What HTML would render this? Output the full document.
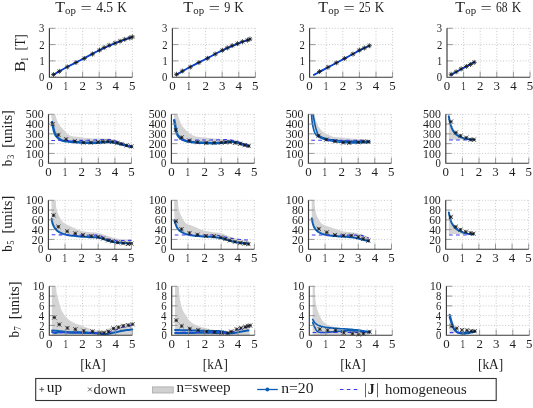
<!DOCTYPE html><html><head><meta charset="utf-8"><style>html,body{margin:0;padding:0;background:#fff;overflow:hidden}svg{display:block;will-change:transform}</style></head><body>
<svg width="533" height="408" viewBox="0 0 533 408" style="font-family:'Liberation Serif',serif">
<rect x="0" y="0" width="533" height="408" fill="#fff"/>
<clipPath id="cl00"><rect x="49.40" y="28.30" width="85.00" height="48.90"/></clipPath>
<path d="M66.00 28.30V77.20 M82.60 28.30V77.20 M99.20 28.30V77.20 M115.80 28.30V77.20 M132.40 28.30V77.20 M49.40 60.90H132.40 M49.40 44.60H132.40 M49.40 28.30H132.40" stroke="#bdbdbd" stroke-width="0.9" stroke-dasharray="0.9 1.9" fill="none"/>
<g clip-path="url(#cl00)">
<path d="M52.72 75.08 L54.13 74.28 L56.04 73.17 L58.32 71.86 L60.84 70.43 L63.44 68.98 L66.00 67.58 L68.57 66.23 L71.29 64.84 L74.09 63.43 L76.94 61.99 L79.79 60.55 L82.60 59.11 L85.37 57.64 L88.13 56.14 L90.90 54.63 L93.67 53.14 L96.43 51.69 L99.20 50.31 L101.97 48.98 L104.73 47.70 L107.50 46.46 L110.27 45.26 L113.03 44.10 L115.80 42.97 L118.76 41.82 L121.95 40.64 L125.14 39.50 L128.10 38.45 L130.59 37.58 L132.40 36.94" stroke="#0a4fb0" stroke-width="1.8" fill="none" stroke-linejoin="round"/>
<path d="M52.72 75.08 L54.13 74.28 L56.04 73.17 L58.32 71.86 L60.84 70.43 L63.44 68.98 L66.00 67.58 L68.57 66.23 L71.29 64.84 L74.09 63.43 L76.94 61.99 L79.79 60.55 L82.60 59.11 L85.37 57.64 L88.13 56.14 L90.90 54.63 L93.67 53.14 L96.43 51.69 L99.20 50.31 L101.97 48.98 L104.73 47.70 L107.50 46.46 L110.27 45.26 L113.03 44.10 L115.80 42.97 L118.76 41.82 L121.95 40.64 L125.14 39.50 L128.10 38.45 L130.59 37.58 L132.40 36.94" stroke="#0a36f0" stroke-width="0.9" fill="none" stroke-linejoin="round"/>
</g>
<path d="M51.75 72.79L55.35 76.39M51.75 76.39L55.35 72.79 M51.05 74.59H56.05M53.55 72.09V77.09 M57.56 69.53L61.16 73.13M57.56 73.13L61.16 69.53 M56.86 71.33H61.86M59.36 68.83V73.83 M65.53 65.13L69.13 68.73M65.53 68.73L69.13 65.13 M64.83 66.93H69.83M67.33 64.43V69.43 M74.16 60.73L77.76 64.33M74.16 64.33L77.76 60.73 M73.46 62.53H78.46M75.96 60.03V65.03 M82.46 56.66L86.06 60.26M82.46 60.26L86.06 56.66 M81.76 58.46H86.76M84.26 55.96V60.96 M90.76 52.25L94.36 55.85M90.76 55.85L94.36 52.25 M90.06 54.05H95.06M92.56 51.55V56.55 M97.73 48.34L101.33 51.94M97.73 51.94L101.33 48.34 M97.03 50.14H102.03M99.53 47.64V52.64 M102.38 45.73L105.98 49.33M102.38 49.33L105.98 45.73 M101.68 47.53H106.68M104.18 45.03V50.03 M107.36 43.45L110.96 47.05M107.36 47.05L110.96 43.45 M106.66 45.25H111.66M109.16 42.75V47.75 M113.17 41.33L116.77 44.93M113.17 44.93L116.77 41.33 M112.47 43.13H117.47M114.97 40.63V45.63 M118.32 39.38L121.92 42.98M118.32 42.98L121.92 39.38 M117.62 41.18H122.62M120.12 38.68V43.68 M122.96 37.58L126.56 41.18M122.96 41.18L126.56 37.58 M122.26 39.38H127.26M124.76 36.88V41.88 M127.94 36.12L131.54 39.72M127.94 39.72L131.54 36.12 M127.24 37.92H132.24M129.74 35.42V40.42 M130.60 35.14L134.20 38.74M130.60 38.74L134.20 35.14 M129.90 36.94H134.90M132.40 34.44V39.44" stroke="#151515" stroke-width="0.75" fill="none"/>
<path d="M66.00 77.20V71.70 M82.60 77.20V71.70 M99.20 77.20V71.70 M115.80 77.20V71.70 M132.40 77.20V71.70 M49.40 60.90H55.20 M49.40 44.60H55.20 M49.40 28.30H55.20" stroke="#909090" stroke-width="0.9" fill="none"/>
<path d="M49.40 28.30V77.20H132.40" stroke="#3a3a3a" stroke-width="1.15" fill="none"/>
<text x="46.18" y="89.80" font-size="11.50" textLength="6.44" lengthAdjust="spacingAndGlyphs" fill="#1e1e1e">0</text>
<text x="63.60" y="89.80" font-size="11.50" textLength="4.54" lengthAdjust="spacingAndGlyphs" fill="#1e1e1e">1</text>
<text x="79.45" y="89.80" font-size="11.50" textLength="6.44" lengthAdjust="spacingAndGlyphs" fill="#1e1e1e">2</text>
<text x="95.92" y="89.80" font-size="11.50" textLength="6.44" lengthAdjust="spacingAndGlyphs" fill="#1e1e1e">3</text>
<text x="112.55" y="89.80" font-size="11.50" textLength="6.44" lengthAdjust="spacingAndGlyphs" fill="#1e1e1e">4</text>
<text x="129.06" y="89.80" font-size="11.50" textLength="6.44" lengthAdjust="spacingAndGlyphs" fill="#1e1e1e">5</text>
<text x="39.09" y="81.30" font-size="12.40" textLength="5.37" lengthAdjust="spacingAndGlyphs" fill="#1e1e1e">0</text>
<text x="39.47" y="65.00" font-size="12.40" textLength="5.20" lengthAdjust="spacingAndGlyphs" fill="#1e1e1e">1</text>
<text x="39.32" y="48.70" font-size="12.40" textLength="5.32" lengthAdjust="spacingAndGlyphs" fill="#1e1e1e">2</text>
<text x="39.12" y="32.40" font-size="12.40" textLength="5.35" lengthAdjust="spacingAndGlyphs" fill="#1e1e1e">3</text>
<clipPath id="cl01"><rect x="48.50" y="114.30" width="85.00" height="48.90"/></clipPath>
<path d="M65.10 114.30V163.20 M81.70 114.30V163.20 M98.30 114.30V163.20 M114.90 114.30V163.20 M131.50 114.30V163.20 M48.50 153.42H131.50 M48.50 143.64H131.50 M48.50 133.86H131.50 M48.50 124.08H131.50 M48.50 114.30H131.50" stroke="#bdbdbd" stroke-width="0.9" stroke-dasharray="0.9 1.9" fill="none"/>
<g clip-path="url(#cl01)">
<path d="M50.82 112.34 L51.47 112.28 L52.42 112.17 L53.48 112.08 L54.45 112.11 L55.14 112.34 L55.44 112.78 L55.48 113.35 L55.42 114.07 L55.42 114.97 L55.64 116.06 L56.08 117.44 L56.64 119.10 L57.32 120.89 L58.09 122.67 L58.96 124.28 L59.97 125.72 L61.13 127.10 L62.36 128.41 L63.60 129.66 L64.77 130.83 L65.76 131.95 L66.63 133.02 L67.52 134.01 L68.62 134.88 L70.08 135.62 L71.99 136.18 L74.23 136.57 L76.69 136.86 L79.22 137.11 L81.70 137.38 L84.14 137.67 L86.62 137.95 L89.13 138.20 L91.65 138.41 L94.15 138.55 L96.71 138.59 L99.33 138.54 L101.92 138.46 L104.38 138.41 L106.60 138.46 L108.53 138.59 L110.22 138.76 L111.78 139.00 L113.31 139.31 L114.90 139.73 L116.56 140.28 L118.22 140.97 L119.88 141.71 L121.54 142.46 L123.20 143.15 L124.99 143.82 L126.92 144.50 L128.78 145.15 L130.37 145.69 L131.50 146.08 L131.50 146.97 L123.20 144.72 L115.73 142.86 L109.09 141.88 L98.30 142.56 L91.66 142.86 L80.04 142.47 L70.08 141.68 L62.28 140.51 L57.80 137.67 L54.97 133.86 L53.48 128.68 L52.32 122.91 L50.82 112.34 Z" fill="#d4d4d4" stroke="none"/>
<path d="M51.99 122.12 L52.15 122.85 L52.37 123.87 L52.64 125.08 L52.93 126.35 L53.21 127.59 L53.48 128.68 L53.71 129.64 L53.93 130.56 L54.14 131.44 L54.38 132.28 L54.65 133.09 L54.97 133.86 L55.35 134.59 L55.75 135.27 L56.20 135.91 L56.68 136.53 L57.21 137.11 L57.80 137.67 L58.41 138.22 L59.04 138.75 L59.73 139.26 L60.48 139.72 L61.32 140.15 L62.28 140.51 L63.36 140.81 L64.55 141.04 L65.84 141.23 L67.20 141.38 L68.62 141.53 L70.08 141.68 L71.60 141.84 L73.18 141.99 L74.82 142.12 L76.52 142.25 L78.26 142.36 L80.04 142.47 L81.94 142.56 L83.97 142.65 L86.06 142.73 L88.09 142.79 L89.99 142.84 L91.66 142.86 L93.01 142.85 L94.09 142.82 L95.03 142.78 L95.96 142.72 L97.01 142.64 L98.30 142.56 L99.91 142.45 L101.74 142.30 L103.70 142.14 L105.65 142.00 L107.48 141.90 L109.09 141.88 L110.43 141.94 L111.58 142.05 L112.62 142.21 L113.61 142.40 L114.62 142.62 L115.73 142.86 L116.92 143.11 L118.13 143.40 L119.36 143.71 L120.62 144.03 L121.90 144.37 L123.20 144.72 L124.63 145.09 L126.21 145.52 L127.82 145.96 L129.32 146.37 L130.59 146.72 L131.50 146.97" stroke="#0a5cb4" stroke-width="2.50" fill="none" stroke-linejoin="round" stroke-linecap="round"/>
<path d="M51.32 140.51 L53.79 140.51 L57.25 140.52 L61.32 140.53 L65.63 140.54 L69.78 140.53 L73.40 140.51 L76.45 140.47 L79.25 140.41 L81.89 140.35 L84.49 140.27 L87.15 140.19 L90.00 140.12 L93.18 140.02 L96.64 139.90 L100.17 139.77 L103.56 139.67 L106.60 139.61 L109.09 139.63 L110.91 139.72 L112.19 139.85 L113.14 140.03 L113.92 140.27 L114.72 140.56 L115.73 140.90 L116.92 141.34 L118.13 141.87 L119.36 142.45 L120.62 143.05 L121.90 143.62 L123.20 144.13 L124.63 144.60 L126.21 145.06 L127.82 145.50 L129.32 145.90 L130.59 146.23 L131.50 146.48" stroke="#3a3af2" stroke-width="1.1" stroke-dasharray="3.7 3.3" fill="none"/>
</g>
<path d="M50.55 121.98L54.75 126.18M50.55 126.18L54.75 121.98 M50.95 124.08H54.35M52.65 122.38V125.78 M56.36 132.74L60.56 136.94M56.36 136.94L60.56 132.74 M56.76 134.84H60.16M58.46 133.14V136.54 M64.00 137.14L68.20 141.34M64.00 141.34L68.20 137.14 M64.40 139.24H67.80M66.10 137.54V140.94 M72.79 139.19L76.99 143.39M72.79 143.39L76.99 139.19 M73.19 141.29H76.59M74.89 139.59V142.99 M81.26 140.46L85.46 144.66M81.26 144.66L85.46 140.46 M81.66 142.56H85.06M83.36 140.86V144.26 M88.73 140.56L92.93 144.76M88.73 144.76L92.93 140.56 M89.13 142.66H92.53M90.83 140.96V144.36 M95.87 139.98L100.07 144.18M95.87 144.18L100.07 139.98 M96.27 142.08H99.67M97.97 140.38V143.78 M100.85 139.58L105.05 143.78M100.85 143.78L105.05 139.58 M101.25 141.68H104.65M102.95 139.98V143.38 M105.83 139.29L110.03 143.49M105.83 143.49L110.03 139.29 M106.23 141.39H109.63M107.93 139.69V143.09 M110.31 139.78L114.51 143.98M110.31 143.98L114.51 139.78 M110.71 141.88H114.11M112.41 140.18V143.58 M115.29 140.76L119.49 144.96M115.29 144.96L119.49 140.76 M115.69 142.86H119.09M117.39 141.16V144.56 M119.44 141.83L123.64 146.03M119.44 146.03L123.64 141.83 M119.84 143.93H123.24M121.54 142.23V145.63 M124.42 143.30L128.62 147.50M124.42 147.50L128.62 143.30 M124.82 145.40H128.22M126.52 143.70V147.10 M129.40 144.28L133.60 148.48M129.40 148.48L133.60 144.28 M129.80 146.38H133.20M131.50 144.68V148.08" stroke="#151515" stroke-width="0.75" fill="none"/>
<path d="M65.10 163.20V157.70 M81.70 163.20V157.70 M98.30 163.20V157.70 M114.90 163.20V157.70 M131.50 163.20V157.70 M48.50 153.42H54.30 M48.50 143.64H54.30 M48.50 133.86H54.30 M48.50 124.08H54.30 M48.50 114.30H54.30" stroke="#909090" stroke-width="0.9" fill="none"/>
<path d="M48.50 114.30V163.20H131.50" stroke="#3a3a3a" stroke-width="1.15" fill="none"/>
<text x="45.28" y="175.80" font-size="11.50" textLength="6.44" lengthAdjust="spacingAndGlyphs" fill="#1e1e1e">0</text>
<text x="62.70" y="175.80" font-size="11.50" textLength="4.54" lengthAdjust="spacingAndGlyphs" fill="#1e1e1e">1</text>
<text x="78.55" y="175.80" font-size="11.50" textLength="6.44" lengthAdjust="spacingAndGlyphs" fill="#1e1e1e">2</text>
<text x="95.02" y="175.80" font-size="11.50" textLength="6.44" lengthAdjust="spacingAndGlyphs" fill="#1e1e1e">3</text>
<text x="111.65" y="175.80" font-size="11.50" textLength="6.44" lengthAdjust="spacingAndGlyphs" fill="#1e1e1e">4</text>
<text x="128.16" y="175.80" font-size="11.50" textLength="6.44" lengthAdjust="spacingAndGlyphs" fill="#1e1e1e">5</text>
<text x="38.19" y="167.30" font-size="12.40" textLength="5.37" lengthAdjust="spacingAndGlyphs" fill="#1e1e1e">0</text>
<text x="25.78" y="157.52" font-size="12.40" textLength="17.82" lengthAdjust="spacingAndGlyphs" fill="#1e1e1e">100</text>
<text x="25.76" y="147.74" font-size="12.40" textLength="17.84" lengthAdjust="spacingAndGlyphs" fill="#1e1e1e">200</text>
<text x="25.76" y="137.96" font-size="12.40" textLength="17.84" lengthAdjust="spacingAndGlyphs" fill="#1e1e1e">300</text>
<text x="25.75" y="128.18" font-size="12.40" textLength="17.86" lengthAdjust="spacingAndGlyphs" fill="#1e1e1e">400</text>
<text x="25.77" y="118.40" font-size="12.40" textLength="17.84" lengthAdjust="spacingAndGlyphs" fill="#1e1e1e">500</text>
<clipPath id="cl02"><rect x="48.40" y="200.30" width="85.00" height="48.90"/></clipPath>
<path d="M65.00 200.30V249.20 M81.60 200.30V249.20 M98.20 200.30V249.20 M114.80 200.30V249.20 M131.40 200.30V249.20 M48.40 239.42H131.40 M48.40 229.64H131.40 M48.40 219.86H131.40 M48.40 210.08H131.40 M48.40 200.30H131.40" stroke="#bdbdbd" stroke-width="0.9" stroke-dasharray="0.9 1.9" fill="none"/>
<g clip-path="url(#cl02)">
<path d="M51.22 197.86 L51.84 197.73 L52.75 197.47 L53.76 197.27 L54.70 197.34 L55.37 197.86 L55.72 198.99 L55.86 200.61 L55.89 202.47 L55.92 204.32 L56.04 205.92 L56.24 207.24 L56.46 208.43 L56.72 209.55 L57.01 210.66 L57.36 211.79 L57.77 212.97 L58.21 214.15 L58.71 215.33 L59.25 216.49 L59.85 217.61 L60.51 218.73 L61.23 219.85 L62.00 220.93 L62.81 221.93 L63.67 222.79 L64.58 223.49 L65.55 224.05 L66.56 224.53 L67.59 224.99 L68.65 225.48 L69.74 226.02 L70.86 226.57 L72.01 227.11 L73.16 227.63 L74.30 228.12 L75.42 228.58 L76.53 229.01 L77.65 229.42 L78.78 229.80 L79.94 230.18 L81.05 230.54 L82.09 230.88 L83.19 231.20 L84.48 231.51 L86.08 231.79 L88.10 232.02 L90.46 232.18 L92.99 232.35 L95.52 232.57 L97.87 232.92 L100.08 233.42 L102.27 234.05 L104.38 234.73 L106.36 235.41 L108.16 236.00 L109.70 236.51 L111.00 237.00 L112.20 237.45 L113.42 237.85 L114.80 238.20 L116.35 238.48 L118.00 238.70 L119.70 238.88 L121.41 239.03 L123.10 239.18 L124.89 239.31 L126.82 239.43 L128.68 239.53 L130.27 239.61 L131.40 239.66 L131.40 243.63 L123.10 242.89 L114.80 242.35 L106.50 240.01 L98.20 237.46 L91.89 237.27 L77.45 236.24 L67.32 234.97 L59.69 232.38 L55.21 228.61 L52.55 223.48 L51.72 218.98 L51.39 197.86 Z" fill="#d4d4d4" stroke="none"/>
<path d="M51.72 218.98 L51.79 219.46 L51.87 220.12 L51.97 220.91 L52.11 221.77 L52.30 222.64 L52.55 223.48 L52.87 224.31 L53.23 225.19 L53.65 226.09 L54.12 226.98 L54.64 227.83 L55.21 228.61 L55.81 229.33 L56.45 230.01 L57.14 230.65 L57.89 231.26 L58.74 231.83 L59.69 232.38 L60.75 232.89 L61.91 233.38 L63.15 233.83 L64.48 234.25 L65.87 234.63 L67.32 234.97 L68.82 235.26 L70.36 235.50 L71.96 235.70 L73.66 235.88 L75.48 236.06 L77.45 236.24 L79.70 236.44 L82.25 236.63 L84.91 236.82 L87.52 237.00 L89.91 237.15 L91.89 237.27 L93.39 237.32 L94.52 237.31 L95.43 237.27 L96.25 237.26 L97.13 237.31 L98.20 237.46 L99.47 237.75 L100.82 238.14 L102.23 238.60 L103.66 239.09 L105.09 239.57 L106.50 240.01 L107.88 240.43 L109.27 240.87 L110.65 241.31 L112.03 241.71 L113.42 242.07 L114.80 242.35 L116.18 242.55 L117.57 242.66 L118.95 242.72 L120.33 242.77 L121.72 242.81 L123.10 242.89 L124.58 243.01 L126.17 243.15 L127.77 243.29 L129.25 243.43 L130.50 243.54 L131.40 243.63" stroke="#0a5cb4" stroke-width="2.00" fill="none" stroke-linejoin="round" stroke-linecap="round"/>
<path d="M51.72 234.77 L55.78 234.83 L61.62 234.90 L68.42 234.99 L75.39 235.08 L81.71 235.16 L86.58 235.21 L89.93 235.22 L92.40 235.17 L94.23 235.11 L95.64 235.08 L96.89 235.10 L98.20 235.21 L99.46 235.44 L100.46 235.76 L101.29 236.14 L102.04 236.54 L102.81 236.95 L103.68 237.32 L104.62 237.67 L105.54 238.04 L106.48 238.41 L107.46 238.76 L108.51 239.09 L109.65 239.37 L110.88 239.61 L112.17 239.83 L113.53 240.01 L114.97 240.17 L116.50 240.30 L118.12 240.40 L119.99 240.46 L122.13 240.48 L124.36 240.48 L126.49 240.45 L128.34 240.42 L129.74 240.40 L130.61 240.37 L131.09 240.33 L131.30 240.28 L131.34 240.23 L131.33 240.18 L131.40 240.15" stroke="#3a3af2" stroke-width="1.1" stroke-dasharray="3.7 3.3" fill="none"/>
</g>
<path d="M51.45 213.21L55.65 217.41M51.45 217.41L55.65 213.21 M51.85 215.31H55.25M53.55 213.61V217.01 M56.26 224.61L60.46 228.81M56.26 228.81L60.46 224.61 M56.66 226.71H60.06M58.36 225.01V228.41 M65.06 229.25L69.26 233.45M65.06 233.45L69.26 229.25 M65.46 231.35H68.86M67.16 229.65V233.05 M73.19 231.31L77.39 235.51M73.19 235.51L77.39 231.31 M73.59 233.41H76.99M75.29 231.71V235.11 M80.83 232.82L85.03 237.02M80.83 237.02L85.03 232.82 M81.23 234.92H84.63M82.93 233.22V236.62 M89.29 233.99L93.49 238.19M89.29 238.19L93.49 233.99 M89.69 236.09H93.09M91.39 234.39V237.79 M96.10 234.88L100.30 239.08M96.10 239.08L100.30 234.88 M96.50 236.98H99.90M98.20 235.28V238.68 M101.08 236.39L105.28 240.59M101.08 240.59L105.28 236.39 M101.48 238.49H104.88M103.18 236.79V240.19 M106.06 238.30L110.26 242.50M106.06 242.50L110.26 238.30 M106.46 240.40H109.86M108.16 238.70V242.10 M110.21 239.18L114.41 243.38M110.21 243.38L114.41 239.18 M110.61 241.28H114.01M112.31 239.58V242.98 M115.52 240.40L119.72 244.60M115.52 244.60L119.72 240.40 M115.92 242.50H119.32M117.62 240.80V244.20 M121.00 241.23L125.20 245.43M121.00 245.43L125.20 241.23 M121.40 243.33H124.80M123.10 241.63V245.03 M125.98 241.82L130.18 246.02M125.98 246.02L130.18 241.82 M126.38 243.92H129.78M128.08 242.22V245.62 M129.30 241.53L133.50 245.73M129.30 245.73L133.50 241.53 M129.70 243.63H133.10M131.40 241.93V245.33" stroke="#151515" stroke-width="0.75" fill="none"/>
<path d="M65.00 249.20V243.70 M81.60 249.20V243.70 M98.20 249.20V243.70 M114.80 249.20V243.70 M131.40 249.20V243.70 M48.40 239.42H54.20 M48.40 229.64H54.20 M48.40 219.86H54.20 M48.40 210.08H54.20 M48.40 200.30H54.20" stroke="#909090" stroke-width="0.9" fill="none"/>
<path d="M48.40 200.30V249.20H131.40" stroke="#3a3a3a" stroke-width="1.15" fill="none"/>
<text x="45.18" y="261.80" font-size="11.50" textLength="6.44" lengthAdjust="spacingAndGlyphs" fill="#1e1e1e">0</text>
<text x="62.60" y="261.80" font-size="11.50" textLength="4.54" lengthAdjust="spacingAndGlyphs" fill="#1e1e1e">1</text>
<text x="78.45" y="261.80" font-size="11.50" textLength="6.44" lengthAdjust="spacingAndGlyphs" fill="#1e1e1e">2</text>
<text x="94.92" y="261.80" font-size="11.50" textLength="6.44" lengthAdjust="spacingAndGlyphs" fill="#1e1e1e">3</text>
<text x="111.55" y="261.80" font-size="11.50" textLength="6.44" lengthAdjust="spacingAndGlyphs" fill="#1e1e1e">4</text>
<text x="128.06" y="261.80" font-size="11.50" textLength="6.44" lengthAdjust="spacingAndGlyphs" fill="#1e1e1e">5</text>
<text x="38.09" y="253.30" font-size="12.40" textLength="5.37" lengthAdjust="spacingAndGlyphs" fill="#1e1e1e">0</text>
<text x="31.87" y="243.52" font-size="12.40" textLength="11.63" lengthAdjust="spacingAndGlyphs" fill="#1e1e1e">20</text>
<text x="31.85" y="233.74" font-size="12.40" textLength="11.65" lengthAdjust="spacingAndGlyphs" fill="#1e1e1e">40</text>
<text x="31.86" y="223.96" font-size="12.40" textLength="11.63" lengthAdjust="spacingAndGlyphs" fill="#1e1e1e">60</text>
<text x="31.86" y="214.18" font-size="12.40" textLength="11.63" lengthAdjust="spacingAndGlyphs" fill="#1e1e1e">80</text>
<text x="25.68" y="204.40" font-size="12.40" textLength="17.82" lengthAdjust="spacingAndGlyphs" fill="#1e1e1e">100</text>
<clipPath id="cl03"><rect x="49.30" y="286.30" width="85.00" height="48.90"/></clipPath>
<path d="M65.90 286.30V335.20 M82.50 286.30V335.20 M99.10 286.30V335.20 M115.70 286.30V335.20 M132.30 286.30V335.20 M49.30 325.42H132.30 M49.30 315.64H132.30 M49.30 305.86H132.30 M49.30 296.08H132.30 M49.30 286.30H132.30" stroke="#bdbdbd" stroke-width="0.9" stroke-dasharray="0.9 1.9" fill="none"/>
<g clip-path="url(#cl03)">
<path d="M51.79 283.86 L52.41 284.09 L53.33 284.38 L54.34 284.77 L55.28 285.30 L55.94 286.01 L56.26 286.95 L56.35 288.10 L56.34 289.38 L56.33 290.68 L56.44 291.92 L56.67 293.10 L56.96 294.27 L57.29 295.45 L57.62 296.62 L57.93 297.79 L58.23 298.97 L58.51 300.14 L58.80 301.32 L59.11 302.49 L59.43 303.66 L59.74 304.82 L60.04 305.97 L60.36 307.12 L60.75 308.28 L61.25 309.48 L61.85 310.72 L62.51 311.99 L63.26 313.28 L64.10 314.55 L65.07 315.79 L66.13 317.01 L67.28 318.23 L68.54 319.42 L69.95 320.55 L71.54 321.61 L73.38 322.56 L75.44 323.42 L77.63 324.23 L79.85 325.02 L82.00 325.81 L84.15 326.65 L86.37 327.52 L88.55 328.36 L90.61 329.10 L92.46 329.67 L94.06 330.06 L95.47 330.28 L96.75 330.41 L97.94 330.48 L99.10 330.55 L100.19 330.65 L101.16 330.75 L102.10 330.79 L103.05 330.74 L104.08 330.55 L105.11 330.20 L106.10 329.71 L107.16 329.12 L108.44 328.49 L110.06 327.87 L112.15 327.20 L114.63 326.45 L117.29 325.71 L119.93 325.01 L122.34 324.44 L124.64 324.00 L126.97 323.64 L129.14 323.36 L130.98 323.14 L132.30 322.97 L132.30 335.20 L51.79 335.20 Z" fill="#d4d4d4" stroke="none"/>
<path d="M52.12 330.41 L52.72 330.47 L53.52 330.54 L54.48 330.63 L55.58 330.74 L56.79 330.86 L58.10 330.99 L59.52 331.16 L61.07 331.36 L62.75 331.58 L64.51 331.79 L66.34 331.98 L68.22 332.12 L70.21 332.20 L72.34 332.25 L74.54 332.26 L76.74 332.27 L78.86 332.28 L80.84 332.31 L82.67 332.37 L84.42 332.43 L86.09 332.49 L87.70 332.56 L89.27 332.63 L90.80 332.71 L92.32 332.78 L93.81 332.86 L95.26 332.94 L96.64 333.03 L97.93 333.13 L99.10 333.24 L100.14 333.40 L101.07 333.58 L101.90 333.78 L102.67 333.97 L103.38 334.12 L104.08 334.22 L104.67 334.27 L105.13 334.29 L105.53 334.27 L105.99 334.22 L106.58 334.12 L107.40 333.98 L108.50 333.77 L109.80 333.50 L111.24 333.19 L112.75 332.85 L114.26 332.52 L115.70 332.22 L117.08 331.93 L118.47 331.64 L119.85 331.35 L121.23 331.07 L122.62 330.80 L124.00 330.55 L125.48 330.32 L127.07 330.10 L128.67 329.89 L130.15 329.70 L131.40 329.55 L132.30 329.43" stroke="#0a5cb4" stroke-width="2.00" fill="none" stroke-linejoin="round" stroke-linecap="round"/>
<path d="M52.12 332.12 L52.48 332.25 L52.98 332.44 L53.56 332.66 L54.20 332.87 L54.84 333.02 L55.44 333.10 L55.88 333.05 L56.16 332.92 L56.44 332.74 L56.89 332.55 L57.66 332.39 L58.93 332.31 L60.76 332.32 L63.05 332.37 L65.66 332.46 L68.48 332.57 L71.36 332.67 L74.20 332.75 L77.16 332.82 L80.39 332.87 L83.68 332.93 L86.87 332.98 L89.74 333.04 L92.13 333.10 L93.95 333.16 L95.34 333.23 L96.42 333.30 L97.33 333.37 L98.18 333.43 L99.10 333.49 L100.10 333.54 L101.09 333.59 L102.03 333.64 L102.86 333.68 L103.56 333.71 L104.08 333.73" stroke="#0a5cb4" stroke-width="2.00" fill="none" stroke-linejoin="round" stroke-linecap="round"/>
<path d="M52.12 332.51 L54.57 332.54 L58.00 332.57 L62.04 332.62 L66.33 332.66 L70.50 332.71 L74.20 332.75 L77.55 332.79 L80.89 332.83 L84.11 332.86 L87.12 332.90 L89.82 332.94 L92.13 333.00 L93.91 333.08 L95.21 333.19 L96.22 333.30 L97.08 333.40 L97.99 333.47 L99.10 333.49 L100.37 333.48 L101.66 333.47 L102.99 333.43 L104.38 333.32 L105.84 333.12 L107.40 332.80 L109.15 332.31 L111.08 331.64 L113.09 330.89 L115.07 330.11 L116.91 329.39 L118.52 328.79 L119.84 328.33 L120.94 327.94 L121.90 327.60 L122.82 327.30 L123.77 327.00 L124.83 326.69 L126.09 326.36 L127.51 326.01 L128.96 325.68 L130.32 325.37 L131.47 325.12 L132.30 324.93" stroke="#3a3af2" stroke-width="1.1" stroke-dasharray="3.7 3.3" fill="none"/>
</g>
<path d="M52.18 315.40L56.38 319.60M52.18 319.60L56.38 315.40 M52.58 317.50H55.98M54.28 315.80V319.20 M57.16 322.39L61.36 326.59M57.16 326.59L61.36 322.39 M57.56 324.49H60.96M59.26 322.79V326.19 M65.29 325.91L69.49 330.11M65.29 330.11L69.49 325.91 M65.69 328.01H69.09M67.39 326.31V329.71 M73.26 327.18L77.46 331.38M73.26 331.38L77.46 327.18 M73.66 329.28H77.06M75.36 327.58V330.98 M81.56 328.70L85.76 332.90M81.56 332.90L85.76 328.70 M81.96 330.80H85.36M83.66 329.10V332.50 M90.36 329.29L94.56 333.49M90.36 333.49L94.56 329.29 M90.76 331.39H94.16M92.46 329.69V333.09 M97.50 330.80L101.70 335.00M97.50 335.00L101.70 330.80 M97.90 332.90H101.30M99.60 331.20V334.60 M101.98 330.65L106.18 334.86M101.98 334.86L106.18 330.65 M102.38 332.75H105.78M104.08 331.06V334.45 M106.46 329.48L110.66 333.68M106.46 333.68L110.66 329.48 M106.86 331.58H110.26M108.56 329.88V333.28 M111.44 326.40L115.64 330.60M111.44 330.60L115.64 326.40 M111.84 328.50H115.24M113.54 326.80V330.20 M116.42 325.18L120.62 329.38M116.42 329.38L120.62 325.18 M116.82 327.28H120.22M118.52 325.58V328.98 M121.24 323.71L125.44 327.91M121.24 327.91L125.44 323.71 M121.64 325.81H125.04M123.34 324.11V327.51 M126.22 323.08L130.42 327.28M126.22 327.28L130.42 323.08 M126.62 325.18H130.02M128.32 323.48V326.88 M130.53 322.15L134.73 326.35M130.53 326.35L134.73 322.15 M130.93 324.25H134.33M132.63 322.55V325.95" stroke="#151515" stroke-width="0.75" fill="none"/>
<path d="M65.90 335.20V329.70 M82.50 335.20V329.70 M99.10 335.20V329.70 M115.70 335.20V329.70 M132.30 335.20V329.70 M49.30 325.42H55.10 M49.30 315.64H55.10 M49.30 305.86H55.10 M49.30 296.08H55.10 M49.30 286.30H55.10" stroke="#909090" stroke-width="0.9" fill="none"/>
<path d="M49.30 286.30V335.20H132.30" stroke="#3a3a3a" stroke-width="1.15" fill="none"/>
<text x="46.08" y="347.80" font-size="11.50" textLength="6.44" lengthAdjust="spacingAndGlyphs" fill="#1e1e1e">0</text>
<text x="63.50" y="347.80" font-size="11.50" textLength="4.54" lengthAdjust="spacingAndGlyphs" fill="#1e1e1e">1</text>
<text x="79.35" y="347.80" font-size="11.50" textLength="6.44" lengthAdjust="spacingAndGlyphs" fill="#1e1e1e">2</text>
<text x="95.82" y="347.80" font-size="11.50" textLength="6.44" lengthAdjust="spacingAndGlyphs" fill="#1e1e1e">3</text>
<text x="112.45" y="347.80" font-size="11.50" textLength="6.44" lengthAdjust="spacingAndGlyphs" fill="#1e1e1e">4</text>
<text x="128.96" y="347.80" font-size="11.50" textLength="6.44" lengthAdjust="spacingAndGlyphs" fill="#1e1e1e">5</text>
<text x="38.99" y="339.30" font-size="12.40" textLength="5.37" lengthAdjust="spacingAndGlyphs" fill="#1e1e1e">0</text>
<text x="39.22" y="329.52" font-size="12.40" textLength="5.32" lengthAdjust="spacingAndGlyphs" fill="#1e1e1e">2</text>
<text x="38.68" y="319.74" font-size="12.40" textLength="5.44" lengthAdjust="spacingAndGlyphs" fill="#1e1e1e">4</text>
<text x="38.89" y="309.96" font-size="12.40" textLength="5.38" lengthAdjust="spacingAndGlyphs" fill="#1e1e1e">6</text>
<text x="38.99" y="300.18" font-size="12.40" textLength="5.37" lengthAdjust="spacingAndGlyphs" fill="#1e1e1e">8</text>
<text x="32.80" y="290.40" font-size="12.40" textLength="11.59" lengthAdjust="spacingAndGlyphs" fill="#1e1e1e">10</text>
<clipPath id="cl10"><rect x="172.40" y="28.30" width="85.00" height="48.90"/></clipPath>
<path d="M189.00 28.30V77.20 M205.60 28.30V77.20 M222.20 28.30V77.20 M238.80 28.30V77.20 M255.40 28.30V77.20 M172.40 60.90H255.40 M172.40 44.60H255.40 M172.40 28.30H255.40" stroke="#bdbdbd" stroke-width="0.9" stroke-dasharray="0.9 1.9" fill="none"/>
<g clip-path="url(#cl10)">
<path d="M175.72 75.08 L177.13 74.28 L179.04 73.17 L181.32 71.86 L183.84 70.43 L186.44 68.98 L189.00 67.58 L191.57 66.23 L194.29 64.84 L197.09 63.42 L199.94 61.98 L202.79 60.54 L205.60 59.11 L208.37 57.66 L211.13 56.19 L213.90 54.71 L216.67 53.25 L219.43 51.82 L222.20 50.47 L225.02 49.15 L227.92 47.86 L230.81 46.61 L233.64 45.42 L236.32 44.30 L238.80 43.30 L241.16 42.37 L243.47 41.51 L245.65 40.73 L247.59 40.05 L249.21 39.49 L250.42 39.06" stroke="#0a4fb0" stroke-width="1.8" fill="none" stroke-linejoin="round"/>
<path d="M175.72 75.08 L177.13 74.28 L179.04 73.17 L181.32 71.86 L183.84 70.43 L186.44 68.98 L189.00 67.58 L191.57 66.23 L194.29 64.84 L197.09 63.42 L199.94 61.98 L202.79 60.54 L205.60 59.11 L208.37 57.66 L211.13 56.19 L213.90 54.71 L216.67 53.25 L219.43 51.82 L222.20 50.47 L225.02 49.15 L227.92 47.86 L230.81 46.61 L233.64 45.42 L236.32 44.30 L238.80 43.30 L241.16 42.37 L243.47 41.51 L245.65 40.73 L247.59 40.05 L249.21 39.49 L250.42 39.06" stroke="#0a36f0" stroke-width="0.9" fill="none" stroke-linejoin="round"/>
</g>
<path d="M174.75 72.47L178.35 76.07M174.75 76.07L178.35 72.47 M174.05 74.27H179.05M176.55 71.77V76.77 M180.56 69.21L184.16 72.81M180.56 72.81L184.16 69.21 M179.86 71.01H184.86M182.36 68.51V73.51 M188.53 65.29L192.13 68.89M188.53 68.89L192.13 65.29 M187.83 67.09H192.83M190.33 64.59V69.59 M197.16 60.73L200.76 64.33M197.16 64.33L200.76 60.73 M196.46 62.53H201.46M198.96 60.03V65.03 M205.79 56.49L209.39 60.09M205.79 60.09L209.39 56.49 M205.09 58.29H210.09M207.59 55.79V60.79 M213.43 52.25L217.03 55.85M213.43 55.85L217.03 52.25 M212.73 54.05H217.73M215.23 51.55V56.55 M220.57 48.51L224.17 52.11M220.57 52.11L224.17 48.51 M219.87 50.31H224.87M222.37 47.81V52.81 M225.55 46.06L229.15 49.66M225.55 49.66L229.15 46.06 M224.85 47.86H229.85M227.35 45.36V50.36 M230.36 43.78L233.96 47.38M230.36 47.38L233.96 43.78 M229.66 45.58H234.66M232.16 43.08V48.08 M235.67 41.82L239.27 45.42M235.67 45.42L239.27 41.82 M234.97 43.62H239.97M237.47 41.12V46.12 M240.65 39.87L244.25 43.47M240.65 43.47L244.25 39.87 M239.95 41.67H244.95M242.45 39.17V44.17 M245.63 38.40L249.23 42.00M245.63 42.00L249.23 38.40 M244.93 40.20H249.93M247.43 37.70V42.70 M248.12 37.26L251.72 40.86M248.12 40.86L251.72 37.26 M247.42 39.06H252.42M249.92 36.56V41.56" stroke="#151515" stroke-width="0.75" fill="none"/>
<path d="M189.00 77.20V71.70 M205.60 77.20V71.70 M222.20 77.20V71.70 M238.80 77.20V71.70 M255.40 77.20V71.70 M172.40 60.90H178.20 M172.40 44.60H178.20 M172.40 28.30H178.20" stroke="#909090" stroke-width="0.9" fill="none"/>
<path d="M172.40 28.30V77.20H255.40" stroke="#3a3a3a" stroke-width="1.15" fill="none"/>
<text x="169.18" y="89.80" font-size="11.50" textLength="6.44" lengthAdjust="spacingAndGlyphs" fill="#1e1e1e">0</text>
<text x="186.60" y="89.80" font-size="11.50" textLength="4.54" lengthAdjust="spacingAndGlyphs" fill="#1e1e1e">1</text>
<text x="202.45" y="89.80" font-size="11.50" textLength="6.44" lengthAdjust="spacingAndGlyphs" fill="#1e1e1e">2</text>
<text x="218.92" y="89.80" font-size="11.50" textLength="6.44" lengthAdjust="spacingAndGlyphs" fill="#1e1e1e">3</text>
<text x="235.55" y="89.80" font-size="11.50" textLength="6.44" lengthAdjust="spacingAndGlyphs" fill="#1e1e1e">4</text>
<text x="252.06" y="89.80" font-size="11.50" textLength="6.44" lengthAdjust="spacingAndGlyphs" fill="#1e1e1e">5</text>
<text x="162.09" y="81.30" font-size="12.40" textLength="5.37" lengthAdjust="spacingAndGlyphs" fill="#1e1e1e">0</text>
<text x="162.47" y="65.00" font-size="12.40" textLength="5.20" lengthAdjust="spacingAndGlyphs" fill="#1e1e1e">1</text>
<text x="162.32" y="48.70" font-size="12.40" textLength="5.32" lengthAdjust="spacingAndGlyphs" fill="#1e1e1e">2</text>
<text x="162.12" y="32.40" font-size="12.40" textLength="5.35" lengthAdjust="spacingAndGlyphs" fill="#1e1e1e">3</text>
<clipPath id="cl11"><rect x="171.40" y="114.30" width="85.00" height="48.90"/></clipPath>
<path d="M188.00 114.30V163.20 M204.60 114.30V163.20 M221.20 114.30V163.20 M237.80 114.30V163.20 M254.40 114.30V163.20 M171.40 153.42H254.40 M171.40 143.64H254.40 M171.40 133.86H254.40 M171.40 124.08H254.40 M171.40 114.30H254.40" stroke="#bdbdbd" stroke-width="0.9" stroke-dasharray="0.9 1.9" fill="none"/>
<g clip-path="url(#cl11)">
<path d="M173.89 112.34 L174.41 112.32 L175.18 112.26 L176.04 112.22 L176.82 112.24 L177.38 112.34 L177.62 112.50 L177.66 112.68 L177.62 112.95 L177.60 113.37 L177.71 114.01 L177.96 114.92 L178.28 116.08 L178.66 117.38 L179.08 118.71 L179.53 119.97 L179.99 121.17 L180.47 122.37 L181.00 123.57 L181.62 124.76 L182.36 125.94 L183.23 127.13 L184.21 128.32 L185.28 129.50 L186.44 130.64 L187.67 131.71 L188.93 132.74 L190.23 133.74 L191.63 134.69 L193.19 135.52 L194.97 136.21 L197.03 136.70 L199.34 137.03 L201.79 137.25 L204.30 137.45 L206.76 137.67 L209.27 137.94 L211.88 138.20 L214.48 138.45 L216.91 138.67 L219.04 138.85 L220.83 138.98 L222.37 139.07 L223.73 139.13 L224.97 139.19 L226.18 139.24 L227.29 139.28 L228.25 139.30 L229.15 139.32 L230.09 139.35 L231.16 139.43 L232.39 139.54 L233.72 139.65 L235.10 139.80 L236.48 140.02 L237.80 140.31 L239.08 140.74 L240.35 141.27 L241.59 141.86 L242.80 142.44 L243.94 142.96 L245.09 143.44 L246.26 143.92 L247.34 144.36 L248.26 144.74 L248.92 145.01 L248.92 145.99 L243.94 144.72 L237.80 142.86 L231.16 141.78 L221.20 142.86 L212.90 143.15 L203.11 142.86 L192.98 142.17 L184.68 140.51 L179.70 137.67 L177.04 133.86 L175.72 128.68 L174.22 120.17 L173.89 112.34 Z" fill="#d4d4d4" stroke="none"/>
<path d="M174.22 120.17 L174.39 121.13 L174.62 122.50 L174.89 124.10 L175.17 125.77 L175.46 127.35 L175.72 128.68 L175.93 129.75 L176.12 130.70 L176.31 131.56 L176.51 132.36 L176.75 133.11 L177.04 133.86 L177.38 134.59 L177.74 135.27 L178.14 135.91 L178.59 136.53 L179.11 137.11 L179.70 137.67 L180.36 138.22 L181.06 138.74 L181.84 139.23 L182.69 139.69 L183.63 140.12 L184.68 140.51 L185.85 140.87 L187.13 141.19 L188.51 141.48 L189.96 141.73 L191.45 141.97 L192.98 142.17 L194.57 142.35 L196.23 142.49 L197.95 142.60 L199.69 142.69 L201.42 142.78 L203.11 142.86 L204.77 142.94 L206.45 143.01 L208.12 143.07 L209.76 143.11 L211.36 143.14 L212.90 143.15 L214.35 143.15 L215.72 143.13 L217.04 143.09 L218.37 143.04 L219.74 142.96 L221.20 142.86 L222.80 142.70 L224.52 142.48 L226.28 142.23 L228.02 142.01 L229.67 141.85 L231.16 141.78 L232.46 141.83 L233.64 141.95 L234.72 142.14 L235.75 142.36 L236.76 142.61 L237.80 142.86 L238.87 143.13 L239.93 143.44 L240.97 143.77 L242.00 144.11 L242.99 144.43 L243.94 144.72 L244.90 144.98 L245.87 145.23 L246.82 145.47 L247.67 145.68 L248.39 145.86 L248.92 145.99" stroke="#0a5cb4" stroke-width="2.50" fill="none" stroke-linejoin="round" stroke-linecap="round"/>
<path d="M174.22 140.02 L176.69 140.02 L180.15 140.03 L184.22 140.03 L188.53 140.03 L192.68 140.03 L196.30 140.02 L199.42 140.01 L202.36 140.00 L205.15 139.99 L207.82 139.97 L210.39 139.95 L212.90 139.92 L215.37 139.87 L217.79 139.80 L220.11 139.72 L222.31 139.65 L224.34 139.61 L226.18 139.63 L227.76 139.69 L229.10 139.78 L230.28 139.91 L231.38 140.06 L232.47 140.27 L233.65 140.51 L234.89 140.81 L236.13 141.18 L237.36 141.58 L238.61 142.01 L239.86 142.44 L241.12 142.86 L242.49 143.30 L243.99 143.78 L245.49 144.28 L246.89 144.73 L248.07 145.12 L248.92 145.40" stroke="#3a3af2" stroke-width="1.1" stroke-dasharray="3.7 3.3" fill="none"/>
</g>
<path d="M173.62 127.85L177.82 132.05M173.62 132.05L177.82 127.85 M174.02 129.95H177.42M175.72 128.25V131.65 M179.59 135.28L183.79 139.48M179.59 139.48L183.79 135.28 M179.99 137.38H183.39M181.69 135.68V139.08 M187.06 138.41L191.26 142.61M187.06 142.61L191.26 138.41 M187.46 140.51H190.86M189.16 138.81V142.21 M195.36 140.07L199.56 144.27M195.36 144.27L199.56 140.07 M195.76 142.17H199.16M197.46 140.47V143.87 M204.16 140.76L208.36 144.96M204.16 144.96L208.36 140.76 M204.56 142.86H207.96M206.26 141.16V144.56 M212.13 140.56L216.33 144.76M212.13 144.76L216.33 140.56 M212.53 142.66H215.93M214.23 140.96V144.36 M219.10 140.37L223.30 144.57M219.10 144.57L223.30 140.37 M219.50 142.47H222.90M221.20 140.77V144.17 M223.58 140.17L227.78 144.37M223.58 144.37L227.78 140.17 M223.98 142.27H227.38M225.68 140.57V143.97 M227.90 140.07L232.10 144.27M227.90 144.27L232.10 140.07 M228.30 142.17H231.70M230.00 140.47V143.87 M233.21 140.76L237.41 144.96M233.21 144.96L237.41 140.76 M233.61 142.86H237.01M235.31 141.16V144.56 M238.19 141.74L242.39 145.94M238.19 145.94L242.39 141.74 M238.59 143.84H241.99M240.29 142.14V145.54 M242.67 143.01L246.87 147.21M242.67 147.21L246.87 143.01 M243.07 145.11H246.47M244.77 143.41V146.81 M246.49 143.89L250.69 148.09M246.49 148.09L250.69 143.89 M246.89 145.99H250.29M248.59 144.29V147.69" stroke="#151515" stroke-width="0.75" fill="none"/>
<path d="M188.00 163.20V157.70 M204.60 163.20V157.70 M221.20 163.20V157.70 M237.80 163.20V157.70 M254.40 163.20V157.70 M171.40 153.42H177.20 M171.40 143.64H177.20 M171.40 133.86H177.20 M171.40 124.08H177.20 M171.40 114.30H177.20" stroke="#909090" stroke-width="0.9" fill="none"/>
<path d="M171.40 114.30V163.20H254.40" stroke="#3a3a3a" stroke-width="1.15" fill="none"/>
<text x="168.18" y="175.80" font-size="11.50" textLength="6.44" lengthAdjust="spacingAndGlyphs" fill="#1e1e1e">0</text>
<text x="185.60" y="175.80" font-size="11.50" textLength="4.54" lengthAdjust="spacingAndGlyphs" fill="#1e1e1e">1</text>
<text x="201.45" y="175.80" font-size="11.50" textLength="6.44" lengthAdjust="spacingAndGlyphs" fill="#1e1e1e">2</text>
<text x="217.92" y="175.80" font-size="11.50" textLength="6.44" lengthAdjust="spacingAndGlyphs" fill="#1e1e1e">3</text>
<text x="234.55" y="175.80" font-size="11.50" textLength="6.44" lengthAdjust="spacingAndGlyphs" fill="#1e1e1e">4</text>
<text x="251.06" y="175.80" font-size="11.50" textLength="6.44" lengthAdjust="spacingAndGlyphs" fill="#1e1e1e">5</text>
<text x="161.09" y="167.30" font-size="12.40" textLength="5.37" lengthAdjust="spacingAndGlyphs" fill="#1e1e1e">0</text>
<text x="148.68" y="157.52" font-size="12.40" textLength="17.82" lengthAdjust="spacingAndGlyphs" fill="#1e1e1e">100</text>
<text x="148.66" y="147.74" font-size="12.40" textLength="17.84" lengthAdjust="spacingAndGlyphs" fill="#1e1e1e">200</text>
<text x="148.66" y="137.96" font-size="12.40" textLength="17.84" lengthAdjust="spacingAndGlyphs" fill="#1e1e1e">300</text>
<text x="148.65" y="128.18" font-size="12.40" textLength="17.86" lengthAdjust="spacingAndGlyphs" fill="#1e1e1e">400</text>
<text x="148.67" y="118.40" font-size="12.40" textLength="17.84" lengthAdjust="spacingAndGlyphs" fill="#1e1e1e">500</text>
<clipPath id="cl12"><rect x="171.40" y="200.30" width="85.00" height="48.90"/></clipPath>
<path d="M188.00 200.30V249.20 M204.60 200.30V249.20 M221.20 200.30V249.20 M237.80 200.30V249.20 M254.40 200.30V249.20 M171.40 239.42H254.40 M171.40 229.64H254.40 M171.40 219.86H254.40 M171.40 210.08H254.40 M171.40 200.30H254.40" stroke="#bdbdbd" stroke-width="0.9" stroke-dasharray="0.9 1.9" fill="none"/>
<g clip-path="url(#cl12)">
<path d="M173.72 197.86 L174.29 197.73 L175.13 197.47 L176.06 197.27 L176.92 197.34 L177.54 197.86 L177.87 198.99 L178.00 200.61 L178.04 202.47 L178.08 204.32 L178.21 205.92 L178.41 207.24 L178.63 208.43 L178.89 209.55 L179.18 210.66 L179.53 211.79 L179.93 212.96 L180.37 214.12 L180.85 215.28 L181.40 216.44 L182.02 217.61 L182.73 218.84 L183.50 220.14 L184.34 221.41 L185.23 222.55 L186.17 223.48 L187.18 224.12 L188.26 224.53 L189.39 224.82 L190.52 225.10 L191.65 225.48 L192.77 225.98 L193.90 226.52 L195.03 227.08 L196.16 227.62 L197.30 228.12 L198.42 228.58 L199.53 229.02 L200.65 229.43 L201.78 229.82 L202.94 230.18 L204.04 230.50 L205.07 230.78 L206.17 231.04 L207.46 231.30 L209.08 231.60 L211.18 231.90 L213.68 232.19 L216.34 232.50 L218.93 232.87 L221.20 233.31 L223.10 233.86 L224.79 234.51 L226.36 235.20 L227.90 235.87 L229.50 236.49 L231.11 237.03 L232.68 237.54 L234.28 238.02 L235.96 238.49 L237.80 238.93 L240.02 239.38 L242.58 239.84 L245.14 240.27 L247.36 240.63 L248.92 240.89 L248.92 243.63 L237.80 242.60 L229.83 240.69 L221.20 238.15 L212.40 236.98 L200.78 236.24 L189.33 234.97 L182.19 232.38 L177.71 228.61 L175.38 223.48 L174.39 220.35 L174.06 197.86 Z" fill="#d4d4d4" stroke="none"/>
<path d="M174.39 220.35 L174.48 220.67 L174.60 221.09 L174.74 221.59 L174.92 222.17 L175.13 222.80 L175.38 223.48 L175.67 224.23 L175.98 225.09 L176.33 226.01 L176.72 226.93 L177.18 227.81 L177.71 228.61 L178.30 229.33 L178.94 230.01 L179.65 230.65 L180.42 231.26 L181.26 231.83 L182.19 232.38 L183.18 232.89 L184.21 233.38 L185.32 233.83 L186.53 234.25 L187.86 234.63 L189.33 234.97 L190.99 235.26 L192.82 235.51 L194.77 235.72 L196.79 235.91 L198.81 236.08 L200.78 236.24 L202.74 236.39 L204.75 236.51 L206.76 236.61 L208.73 236.72 L210.63 236.83 L212.40 236.98 L214.03 237.13 L215.55 237.28 L216.99 237.45 L218.38 237.64 L219.78 237.87 L221.20 238.15 L222.66 238.50 L224.11 238.92 L225.57 239.37 L227.01 239.84 L228.43 240.29 L229.83 240.69 L231.16 241.06 L232.42 241.41 L233.66 241.74 L234.93 242.05 L236.30 242.34 L237.80 242.60 L239.60 242.83 L241.69 243.04 L243.86 243.23 L245.92 243.39 L247.68 243.52 L248.92 243.63" stroke="#0a5cb4" stroke-width="2.00" fill="none" stroke-linejoin="round" stroke-linecap="round"/>
<path d="M174.72 235.02 L179.15 235.01 L185.56 234.98 L193.01 234.95 L200.59 234.93 L207.36 234.95 L212.40 235.02 L215.54 235.14 L217.48 235.30 L218.62 235.49 L219.35 235.71 L220.08 235.95 L221.20 236.19 L222.63 236.46 L224.03 236.76 L225.42 237.08 L226.84 237.40 L228.30 237.71 L229.83 238.00 L231.47 238.28 L233.20 238.55 L234.97 238.81 L236.74 239.05 L238.48 239.28 L240.12 239.47 L241.78 239.63 L243.49 239.77 L245.17 239.88 L246.70 239.97 L247.98 240.05 L248.92 240.10" stroke="#3a3af2" stroke-width="1.1" stroke-dasharray="3.7 3.3" fill="none"/>
</g>
<path d="M173.95 219.08L178.15 223.28M173.95 223.28L178.15 219.08 M174.35 221.18H177.75M176.05 219.48V222.88 M179.43 227.10L183.63 231.30M179.43 231.30L183.63 227.10 M179.83 229.20H183.23M181.53 227.50V230.90 M187.39 230.91L191.59 235.11M187.39 235.11L191.59 230.91 M187.79 233.01H191.19M189.49 231.31V234.71 M195.36 232.58L199.56 236.78M195.36 236.78L199.56 232.58 M195.76 234.68H199.16M197.46 232.98V236.38 M203.99 233.90L208.19 238.10M203.99 238.10L208.19 233.90 M204.39 236.00H207.79M206.09 234.30V237.70 M211.80 234.09L216.00 238.29M211.80 238.29L216.00 234.09 M212.20 236.19H215.60M213.90 234.49V237.89 M218.77 235.41L222.97 239.61M218.77 239.61L222.97 235.41 M219.17 237.51H222.57M220.87 235.81V239.21 M223.25 236.88L227.45 241.08M223.25 241.08L227.45 236.88 M223.65 238.98H227.05M225.35 237.28V240.68 M227.73 238.30L231.93 242.50M227.73 242.50L231.93 238.30 M228.13 240.40H231.53M229.83 238.70V242.10 M232.88 239.62L237.08 243.82M232.88 243.82L237.08 239.62 M233.28 241.72H236.68M234.98 240.02V243.42 M238.02 240.79L242.22 244.99M238.02 244.99L242.22 240.79 M238.42 242.89H241.82M240.12 241.19V244.59 M242.51 241.53L246.71 245.73M242.51 245.73L246.71 241.53 M242.91 243.63H246.31M244.61 241.93V245.33 M246.32 242.01L250.52 246.21M246.32 246.21L250.52 242.01 M246.72 244.11H250.12M248.42 242.41V245.81" stroke="#151515" stroke-width="0.75" fill="none"/>
<path d="M188.00 249.20V243.70 M204.60 249.20V243.70 M221.20 249.20V243.70 M237.80 249.20V243.70 M254.40 249.20V243.70 M171.40 239.42H177.20 M171.40 229.64H177.20 M171.40 219.86H177.20 M171.40 210.08H177.20 M171.40 200.30H177.20" stroke="#909090" stroke-width="0.9" fill="none"/>
<path d="M171.40 200.30V249.20H254.40" stroke="#3a3a3a" stroke-width="1.15" fill="none"/>
<text x="168.18" y="261.80" font-size="11.50" textLength="6.44" lengthAdjust="spacingAndGlyphs" fill="#1e1e1e">0</text>
<text x="185.60" y="261.80" font-size="11.50" textLength="4.54" lengthAdjust="spacingAndGlyphs" fill="#1e1e1e">1</text>
<text x="201.45" y="261.80" font-size="11.50" textLength="6.44" lengthAdjust="spacingAndGlyphs" fill="#1e1e1e">2</text>
<text x="217.92" y="261.80" font-size="11.50" textLength="6.44" lengthAdjust="spacingAndGlyphs" fill="#1e1e1e">3</text>
<text x="234.55" y="261.80" font-size="11.50" textLength="6.44" lengthAdjust="spacingAndGlyphs" fill="#1e1e1e">4</text>
<text x="251.06" y="261.80" font-size="11.50" textLength="6.44" lengthAdjust="spacingAndGlyphs" fill="#1e1e1e">5</text>
<text x="161.09" y="253.30" font-size="12.40" textLength="5.37" lengthAdjust="spacingAndGlyphs" fill="#1e1e1e">0</text>
<text x="154.87" y="243.52" font-size="12.40" textLength="11.63" lengthAdjust="spacingAndGlyphs" fill="#1e1e1e">20</text>
<text x="154.85" y="233.74" font-size="12.40" textLength="11.65" lengthAdjust="spacingAndGlyphs" fill="#1e1e1e">40</text>
<text x="154.86" y="223.96" font-size="12.40" textLength="11.63" lengthAdjust="spacingAndGlyphs" fill="#1e1e1e">60</text>
<text x="154.86" y="214.18" font-size="12.40" textLength="11.63" lengthAdjust="spacingAndGlyphs" fill="#1e1e1e">80</text>
<text x="148.68" y="204.40" font-size="12.40" textLength="17.82" lengthAdjust="spacingAndGlyphs" fill="#1e1e1e">100</text>
<clipPath id="cl13"><rect x="171.70" y="286.30" width="85.00" height="48.90"/></clipPath>
<path d="M188.30 286.30V335.20 M204.90 286.30V335.20 M221.50 286.30V335.20 M238.10 286.30V335.20 M254.70 286.30V335.20 M171.70 325.42H254.70 M171.70 315.64H254.70 M171.70 305.86H254.70 M171.70 296.08H254.70 M171.70 286.30H254.70" stroke="#bdbdbd" stroke-width="0.9" stroke-dasharray="0.9 1.9" fill="none"/>
<g clip-path="url(#cl13)">
<path d="M175.02 283.86 L175.54 284.09 L176.30 284.38 L177.15 284.77 L177.93 285.30 L178.51 286.01 L178.82 286.95 L178.98 288.10 L179.05 289.38 L179.09 290.68 L179.17 291.92 L179.27 293.10 L179.35 294.27 L179.43 295.45 L179.53 296.62 L179.67 297.79 L179.85 298.96 L180.05 300.13 L180.29 301.29 L180.54 302.47 L180.83 303.66 L181.13 304.87 L181.43 306.09 L181.77 307.32 L182.17 308.55 L182.66 309.77 L183.24 310.98 L183.90 312.19 L184.62 313.40 L185.38 314.60 L186.14 315.79 L186.88 316.99 L187.61 318.21 L188.38 319.40 L189.26 320.55 L190.29 321.61 L191.52 322.58 L192.92 323.51 L194.41 324.36 L195.93 325.13 L197.43 325.81 L198.89 326.36 L200.35 326.79 L201.84 327.15 L203.35 327.49 L204.90 327.87 L206.51 328.28 L208.16 328.70 L209.84 329.11 L211.53 329.49 L213.20 329.82 L214.89 330.09 L216.60 330.31 L218.30 330.49 L219.95 330.65 L221.50 330.80 L222.96 330.97 L224.36 331.15 L225.68 331.29 L226.94 331.35 L228.14 331.29 L229.19 331.06 L230.09 330.71 L230.97 330.27 L231.94 329.79 L233.12 329.33 L234.57 328.87 L236.20 328.37 L237.94 327.85 L239.71 327.35 L241.42 326.89 L243.21 326.43 L245.14 325.98 L247.00 325.55 L248.59 325.19 L249.72 324.93 L249.72 335.20 L175.02 335.20 Z" fill="#d4d4d4" stroke="none"/>
<path d="M175.02 330.07 L176.43 330.09 L178.34 330.12 L180.62 330.15 L183.14 330.19 L185.74 330.25 L188.30 330.31 L190.97 330.39 L193.89 330.50 L196.91 330.61 L199.86 330.72 L202.58 330.82 L204.90 330.90 L206.76 330.95 L208.28 330.97 L209.57 330.99 L210.74 331.00 L211.91 331.02 L213.20 331.04 L214.59 331.06 L216.00 331.05 L217.40 331.05 L218.79 331.08 L220.16 331.15 L221.50 331.29 L222.82 331.54 L224.14 331.89 L225.44 332.30 L226.70 332.69 L227.88 333.03 L228.97 333.24 L229.92 333.34 L230.75 333.36 L231.51 333.32 L232.26 333.23 L233.05 333.12 L233.95 333.00 L234.95 332.86 L236.00 332.69 L237.09 332.49 L238.23 332.27 L239.40 332.05 L240.59 331.83 L241.91 331.59 L243.39 331.32 L244.91 331.04 L246.33 330.78 L247.53 330.56 L248.39 330.41" stroke="#0a5cb4" stroke-width="2.00" fill="none" stroke-linejoin="round" stroke-linecap="round"/>
<path d="M175.02 333.00 L176.43 333.00 L178.34 333.01 L180.62 333.01 L183.14 333.02 L185.74 333.01 L188.30 333.00 L190.87 332.97 L193.59 332.92 L196.39 332.86 L199.24 332.81 L202.09 332.77 L204.90 332.75 L207.77 332.77 L210.77 332.80 L213.77 332.84 L216.64 332.89 L219.26 332.95 L221.50 333.00 L223.36 333.05 L224.94 333.12 L226.27 333.19 L227.37 333.25 L228.26 333.30 L228.97 333.34" stroke="#0a5cb4" stroke-width="2.00" fill="none" stroke-linejoin="round" stroke-linecap="round"/>
<path d="M175.02 332.27 L179.52 332.26 L186.03 332.25 L193.59 332.24 L201.27 332.23 L208.12 332.24 L213.20 332.27 L216.32 332.32 L218.21 332.40 L219.27 332.50 L219.90 332.59 L220.51 332.68 L221.50 332.75 L222.82 332.83 L224.14 332.93 L225.44 333.01 L226.70 333.07 L227.88 333.07 L228.97 333.00 L229.92 332.83 L230.75 332.58 L231.51 332.28 L232.26 331.95 L233.05 331.61 L233.95 331.29 L234.98 330.97 L236.10 330.63 L237.27 330.28 L238.44 329.94 L239.56 329.60 L240.59 329.28 L241.53 328.98 L242.40 328.69 L243.24 328.40 L244.03 328.13 L244.81 327.87 L245.57 327.62 L246.36 327.38 L247.17 327.14 L247.96 326.91 L248.67 326.70 L249.28 326.53 L249.72 326.40" stroke="#3a3af2" stroke-width="1.1" stroke-dasharray="3.7 3.3" fill="none"/>
</g>
<path d="M174.08 318.28L178.28 322.48M174.08 322.48L178.28 318.28 M174.48 320.38H177.88M176.18 318.68V322.08 M179.56 324.00L183.76 328.20M179.56 328.20L183.76 324.00 M179.96 326.10H183.36M181.66 324.40V327.80 M187.69 326.60L191.89 330.80M187.69 330.80L191.89 326.60 M188.09 328.70H191.49M189.79 327.00V330.40 M196.16 328.01L200.36 332.21M196.16 332.21L200.36 328.01 M196.56 330.11H199.96M198.26 328.41V331.81 M204.13 329.48L208.33 333.68M204.13 333.68L208.33 329.48 M204.53 331.58H207.93M206.23 329.88V333.28 M212.43 330.12L216.63 334.32M212.43 334.32L216.63 330.12 M212.83 332.22H216.23M214.53 330.52V333.92 M219.40 330.70L223.60 334.90M219.40 334.90L223.60 330.70 M219.80 332.80H223.20M221.50 331.10V334.50 M225.54 331.00L229.74 335.20M225.54 335.20L229.74 331.00 M225.94 333.10H229.34M227.64 331.40V334.80 M229.03 329.48L233.23 333.68M229.03 333.68L233.23 329.48 M229.43 331.58H232.83M231.13 329.88V333.28 M234.67 327.18L238.87 331.38M234.67 331.38L238.87 327.18 M235.07 329.28H238.47M236.77 327.58V330.98 M238.82 325.91L243.02 330.11M238.82 330.11L243.02 325.91 M239.22 328.01H242.62M240.92 326.31V329.71 M243.14 324.69L247.34 328.89M243.14 328.89L247.34 324.69 M243.54 326.79H246.94M245.24 325.09V328.49 M245.96 323.81L250.16 328.01M245.96 328.01L250.16 323.81 M246.36 325.91H249.76M248.06 324.21V327.61 M248.12 323.42L252.32 327.62M248.12 327.62L252.32 323.42 M248.52 325.52H251.92M250.22 323.82V327.22" stroke="#151515" stroke-width="0.75" fill="none"/>
<path d="M188.30 335.20V329.70 M204.90 335.20V329.70 M221.50 335.20V329.70 M238.10 335.20V329.70 M254.70 335.20V329.70 M171.70 325.42H177.50 M171.70 315.64H177.50 M171.70 305.86H177.50 M171.70 296.08H177.50 M171.70 286.30H177.50" stroke="#909090" stroke-width="0.9" fill="none"/>
<path d="M171.70 286.30V335.20H254.70" stroke="#3a3a3a" stroke-width="1.15" fill="none"/>
<text x="168.48" y="347.80" font-size="11.50" textLength="6.44" lengthAdjust="spacingAndGlyphs" fill="#1e1e1e">0</text>
<text x="185.90" y="347.80" font-size="11.50" textLength="4.54" lengthAdjust="spacingAndGlyphs" fill="#1e1e1e">1</text>
<text x="201.75" y="347.80" font-size="11.50" textLength="6.44" lengthAdjust="spacingAndGlyphs" fill="#1e1e1e">2</text>
<text x="218.22" y="347.80" font-size="11.50" textLength="6.44" lengthAdjust="spacingAndGlyphs" fill="#1e1e1e">3</text>
<text x="234.85" y="347.80" font-size="11.50" textLength="6.44" lengthAdjust="spacingAndGlyphs" fill="#1e1e1e">4</text>
<text x="251.36" y="347.80" font-size="11.50" textLength="6.44" lengthAdjust="spacingAndGlyphs" fill="#1e1e1e">5</text>
<text x="161.39" y="339.30" font-size="12.40" textLength="5.37" lengthAdjust="spacingAndGlyphs" fill="#1e1e1e">0</text>
<text x="161.62" y="329.52" font-size="12.40" textLength="5.32" lengthAdjust="spacingAndGlyphs" fill="#1e1e1e">2</text>
<text x="161.08" y="319.74" font-size="12.40" textLength="5.44" lengthAdjust="spacingAndGlyphs" fill="#1e1e1e">4</text>
<text x="161.29" y="309.96" font-size="12.40" textLength="5.38" lengthAdjust="spacingAndGlyphs" fill="#1e1e1e">6</text>
<text x="161.39" y="300.18" font-size="12.40" textLength="5.37" lengthAdjust="spacingAndGlyphs" fill="#1e1e1e">8</text>
<text x="155.20" y="290.40" font-size="12.40" textLength="11.59" lengthAdjust="spacingAndGlyphs" fill="#1e1e1e">10</text>
<clipPath id="cl20"><rect x="309.60" y="28.30" width="85.00" height="48.90"/></clipPath>
<path d="M326.20 28.30V77.20 M342.80 28.30V77.20 M359.40 28.30V77.20 M376.00 28.30V77.20 M392.60 28.30V77.20 M309.60 60.90H392.60 M309.60 44.60H392.60 M309.60 28.30H392.60" stroke="#bdbdbd" stroke-width="0.9" stroke-dasharray="0.9 1.9" fill="none"/>
<g clip-path="url(#cl20)">
<path d="M313.25 75.24 L314.82 74.40 L316.97 73.25 L319.52 71.88 L322.30 70.39 L325.14 68.87 L327.86 67.42 L330.53 66.00 L333.31 64.53 L336.14 63.04 L338.98 61.54 L341.77 60.06 L344.46 58.62 L347.10 57.18 L349.73 55.73 L352.31 54.30 L354.81 52.92 L357.19 51.63 L359.40 50.47 L361.52 49.41 L363.61 48.42 L365.56 47.51 L367.31 46.73 L368.77 46.07 L369.86 45.58" stroke="#0a4fb0" stroke-width="1.8" fill="none" stroke-linejoin="round"/>
<path d="M313.25 75.24 L314.82 74.40 L316.97 73.25 L319.52 71.88 L322.30 70.39 L325.14 68.87 L327.86 67.42 L330.53 66.00 L333.31 64.53 L336.14 63.04 L338.98 61.54 L341.77 60.06 L344.46 58.62 L347.10 57.18 L349.73 55.73 L352.31 54.30 L354.81 52.92 L357.19 51.63 L359.40 50.47 L361.52 49.41 L363.61 48.42 L365.56 47.51 L367.31 46.73 L368.77 46.07 L369.86 45.58" stroke="#0a36f0" stroke-width="0.9" fill="none" stroke-linejoin="round"/>
</g>
<path d="M317.76 69.70L321.36 73.30M317.76 73.30L321.36 69.70 M317.06 71.50H322.06M319.56 69.00V74.00 M326.06 65.46L329.66 69.06M326.06 69.06L329.66 65.46 M325.36 67.26H330.36M327.86 64.76V69.76 M334.53 61.06L338.13 64.66M334.53 64.66L338.13 61.06 M333.83 62.86H338.83M336.33 60.36V65.36 M342.83 56.66L346.43 60.26M342.83 60.26L346.43 56.66 M342.13 58.46H347.13M344.63 55.96V60.96 M351.13 52.25L354.73 55.85M351.13 55.85L354.73 52.25 M350.43 54.05H355.43M352.93 51.55V56.55 M357.60 48.34L361.20 51.94M357.60 51.94L361.20 48.34 M356.90 50.14H361.90M359.40 47.64V52.64 M362.58 46.22L366.18 49.82M362.58 49.82L366.18 46.22 M361.88 48.02H366.88M364.38 45.52V50.52 M367.56 43.94L371.16 47.54M367.56 47.54L371.16 43.94 M366.86 45.74H371.86M369.36 43.24V48.24" stroke="#151515" stroke-width="0.75" fill="none"/>
<path d="M326.20 77.20V71.70 M342.80 77.20V71.70 M359.40 77.20V71.70 M376.00 77.20V71.70 M392.60 77.20V71.70 M309.60 60.90H315.40 M309.60 44.60H315.40 M309.60 28.30H315.40" stroke="#909090" stroke-width="0.9" fill="none"/>
<path d="M309.60 28.30V77.20H392.60" stroke="#3a3a3a" stroke-width="1.15" fill="none"/>
<text x="306.38" y="89.80" font-size="11.50" textLength="6.44" lengthAdjust="spacingAndGlyphs" fill="#1e1e1e">0</text>
<text x="323.80" y="89.80" font-size="11.50" textLength="4.54" lengthAdjust="spacingAndGlyphs" fill="#1e1e1e">1</text>
<text x="339.65" y="89.80" font-size="11.50" textLength="6.44" lengthAdjust="spacingAndGlyphs" fill="#1e1e1e">2</text>
<text x="356.12" y="89.80" font-size="11.50" textLength="6.44" lengthAdjust="spacingAndGlyphs" fill="#1e1e1e">3</text>
<text x="372.75" y="89.80" font-size="11.50" textLength="6.44" lengthAdjust="spacingAndGlyphs" fill="#1e1e1e">4</text>
<text x="389.26" y="89.80" font-size="11.50" textLength="6.44" lengthAdjust="spacingAndGlyphs" fill="#1e1e1e">5</text>
<text x="299.29" y="81.30" font-size="12.40" textLength="5.37" lengthAdjust="spacingAndGlyphs" fill="#1e1e1e">0</text>
<text x="299.67" y="65.00" font-size="12.40" textLength="5.20" lengthAdjust="spacingAndGlyphs" fill="#1e1e1e">1</text>
<text x="299.52" y="48.70" font-size="12.40" textLength="5.32" lengthAdjust="spacingAndGlyphs" fill="#1e1e1e">2</text>
<text x="299.32" y="32.40" font-size="12.40" textLength="5.35" lengthAdjust="spacingAndGlyphs" fill="#1e1e1e">3</text>
<clipPath id="cl21"><rect x="308.40" y="114.30" width="85.00" height="48.90"/></clipPath>
<path d="M325.00 114.30V163.20 M341.60 114.30V163.20 M358.20 114.30V163.20 M374.80 114.30V163.20 M391.40 114.30V163.20 M308.40 153.42H391.40 M308.40 143.64H391.40 M308.40 133.86H391.40 M308.40 124.08H391.40 M308.40 114.30H391.40" stroke="#bdbdbd" stroke-width="0.9" stroke-dasharray="0.9 1.9" fill="none"/>
<g clip-path="url(#cl21)">
<path d="M311.72 112.34 L312.07 112.32 L312.58 112.26 L313.15 112.22 L313.67 112.24 L314.04 112.34 L314.22 112.50 L314.26 112.68 L314.26 112.95 L314.27 113.37 L314.38 114.01 L314.59 114.92 L314.85 116.08 L315.16 117.38 L315.50 118.71 L315.87 119.97 L316.24 121.17 L316.63 122.37 L317.06 123.57 L317.57 124.76 L318.19 125.94 L318.95 127.14 L319.80 128.37 L320.74 129.58 L321.76 130.71 L322.84 131.71 L324.05 132.57 L325.39 133.33 L326.77 133.99 L328.11 134.59 L329.32 135.13 L330.28 135.61 L331.06 136.00 L331.82 136.34 L332.73 136.63 L333.96 136.89 L335.55 137.10 L337.39 137.26 L339.41 137.38 L341.56 137.51 L343.76 137.67 L346.03 137.89 L348.42 138.13 L350.90 138.38 L353.45 138.63 L356.04 138.85 L358.92 139.06 L362.11 139.26 L365.23 139.45 L367.92 139.61 L369.82 139.73 L369.82 142.27 L361.52 142.66 L352.22 142.86 L341.93 142.47 L334.13 141.39 L326.66 139.92 L319.36 137.28 L315.70 134.35 L313.55 129.07 L312.05 120.95 L311.39 112.34 Z" fill="#d4d4d4" stroke="none"/>
<path d="M311.39 112.34 L311.45 113.29 L311.53 114.59 L311.63 116.14 L311.74 117.80 L311.89 119.44 L312.05 120.95 L312.25 122.36 L312.46 123.80 L312.71 125.22 L312.97 126.59 L313.25 127.88 L313.55 129.07 L313.85 130.14 L314.16 131.13 L314.49 132.03 L314.85 132.87 L315.25 133.64 L315.70 134.35 L316.18 134.98 L316.68 135.51 L317.21 135.98 L317.81 136.41 L318.52 136.84 L319.36 137.28 L320.36 137.75 L321.51 138.23 L322.77 138.69 L324.08 139.14 L325.39 139.55 L326.66 139.92 L327.89 140.24 L329.13 140.51 L330.36 140.75 L331.61 140.97 L332.86 141.18 L334.13 141.39 L335.38 141.60 L336.61 141.80 L337.85 142.00 L339.13 142.17 L340.48 142.33 L341.93 142.47 L343.51 142.58 L345.22 142.67 L346.98 142.74 L348.77 142.80 L350.54 142.83 L352.22 142.86 L353.84 142.86 L355.43 142.84 L357.00 142.81 L358.53 142.76 L360.04 142.71 L361.52 142.66 L363.06 142.60 L364.67 142.53 L366.25 142.45 L367.71 142.38 L368.93 142.32 L369.82 142.27" stroke="#0a5cb4" stroke-width="1.60" fill="none" stroke-linejoin="round" stroke-linecap="round"/>
<path d="M312.72 112.34 L312.87 113.28 L313.08 114.56 L313.33 116.08 L313.61 117.73 L313.91 119.39 L314.21 120.95 L314.52 122.46 L314.85 124.04 L315.20 125.62 L315.56 127.17 L315.95 128.62 L316.37 129.95 L316.77 131.14 L317.14 132.24 L317.54 133.26 L318.01 134.19 L318.60 135.04 L319.36 135.82 L320.32 136.49 L321.46 137.07 L322.73 137.57 L324.05 138.00 L325.38 138.39 L326.66 138.75 L327.89 139.06 L329.13 139.31 L330.36 139.51 L331.61 139.68 L332.86 139.85 L334.13 140.02 L335.38 140.21 L336.61 140.39 L337.85 140.57 L339.13 140.73 L340.48 140.88 L341.93 141.00 L343.51 141.09 L345.22 141.15 L346.98 141.19 L348.77 141.23 L350.54 141.26 L352.22 141.29 L353.84 141.34 L355.43 141.38 L357.00 141.42 L358.53 141.46 L360.04 141.48 L361.52 141.49 L363.06 141.48 L364.67 141.44 L366.25 141.40 L367.71 141.36 L368.93 141.32 L369.82 141.29" stroke="#0a5cb4" stroke-width="1.60" fill="none" stroke-linejoin="round" stroke-linecap="round"/>
<path d="M311.22 140.22 L318.08 140.22 L328.09 140.22 L339.69 140.22 L351.29 140.22 L361.31 140.22 L368.16 140.22" stroke="#3a3af2" stroke-width="1.1" stroke-dasharray="3.7 3.3" fill="none"/>
</g>
<path d="M316.43 133.62L320.63 137.82M316.43 137.82L320.63 133.62 M316.83 135.72H320.23M318.53 134.02V137.42 M324.06 137.53L328.26 141.73M324.06 141.73L328.26 137.53 M324.46 139.63H327.86M326.16 137.93V141.33 M332.86 139.19L337.06 143.39M332.86 143.39L337.06 139.19 M333.26 141.29H336.66M334.96 139.59V142.99 M340.99 140.46L345.19 144.66M340.99 144.66L345.19 140.46 M341.39 142.56H344.79M343.09 140.86V144.26 M347.14 140.76L351.34 144.96M347.14 144.96L351.34 140.76 M347.54 142.86H350.94M349.24 141.16V144.56 M356.10 140.17L360.30 144.37M356.10 144.37L360.30 140.17 M356.50 142.27H359.90M358.20 140.57V143.97 M361.08 139.58L365.28 143.78M361.08 143.78L365.28 139.58 M361.48 141.68H364.88M363.18 139.98V143.38 M366.06 139.78L370.26 143.98M366.06 143.98L370.26 139.78 M366.46 141.88H369.86M368.16 140.18V143.58" stroke="#151515" stroke-width="0.75" fill="none"/>
<path d="M325.00 163.20V157.70 M341.60 163.20V157.70 M358.20 163.20V157.70 M374.80 163.20V157.70 M391.40 163.20V157.70 M308.40 153.42H314.20 M308.40 143.64H314.20 M308.40 133.86H314.20 M308.40 124.08H314.20 M308.40 114.30H314.20" stroke="#909090" stroke-width="0.9" fill="none"/>
<path d="M308.40 114.30V163.20H391.40" stroke="#3a3a3a" stroke-width="1.15" fill="none"/>
<text x="305.18" y="175.80" font-size="11.50" textLength="6.44" lengthAdjust="spacingAndGlyphs" fill="#1e1e1e">0</text>
<text x="322.60" y="175.80" font-size="11.50" textLength="4.54" lengthAdjust="spacingAndGlyphs" fill="#1e1e1e">1</text>
<text x="338.45" y="175.80" font-size="11.50" textLength="6.44" lengthAdjust="spacingAndGlyphs" fill="#1e1e1e">2</text>
<text x="354.92" y="175.80" font-size="11.50" textLength="6.44" lengthAdjust="spacingAndGlyphs" fill="#1e1e1e">3</text>
<text x="371.55" y="175.80" font-size="11.50" textLength="6.44" lengthAdjust="spacingAndGlyphs" fill="#1e1e1e">4</text>
<text x="388.06" y="175.80" font-size="11.50" textLength="6.44" lengthAdjust="spacingAndGlyphs" fill="#1e1e1e">5</text>
<text x="298.09" y="167.30" font-size="12.40" textLength="5.37" lengthAdjust="spacingAndGlyphs" fill="#1e1e1e">0</text>
<text x="285.68" y="157.52" font-size="12.40" textLength="17.82" lengthAdjust="spacingAndGlyphs" fill="#1e1e1e">100</text>
<text x="285.66" y="147.74" font-size="12.40" textLength="17.84" lengthAdjust="spacingAndGlyphs" fill="#1e1e1e">200</text>
<text x="285.66" y="137.96" font-size="12.40" textLength="17.84" lengthAdjust="spacingAndGlyphs" fill="#1e1e1e">300</text>
<text x="285.65" y="128.18" font-size="12.40" textLength="17.86" lengthAdjust="spacingAndGlyphs" fill="#1e1e1e">400</text>
<text x="285.67" y="118.40" font-size="12.40" textLength="17.84" lengthAdjust="spacingAndGlyphs" fill="#1e1e1e">500</text>
<clipPath id="cl22"><rect x="308.50" y="200.30" width="85.00" height="48.90"/></clipPath>
<path d="M325.10 200.30V249.20 M341.70 200.30V249.20 M358.30 200.30V249.20 M374.90 200.30V249.20 M391.50 200.30V249.20 M308.50 239.42H391.50 M308.50 229.64H391.50 M308.50 219.86H391.50 M308.50 210.08H391.50 M308.50 200.30H391.50" stroke="#bdbdbd" stroke-width="0.9" stroke-dasharray="0.9 1.9" fill="none"/>
<g clip-path="url(#cl22)">
<path d="M311.82 197.86 L312.19 198.09 L312.73 198.38 L313.34 198.77 L313.90 199.30 L314.31 200.01 L314.53 200.95 L314.64 202.10 L314.68 203.38 L314.72 204.68 L314.81 205.92 L314.93 207.10 L315.06 208.28 L315.21 209.45 L315.39 210.62 L315.64 211.79 L315.93 212.96 L316.26 214.12 L316.63 215.28 L317.09 216.44 L317.63 217.61 L318.26 218.83 L318.97 220.10 L319.76 221.34 L320.64 222.50 L321.61 223.48 L322.73 224.26 L323.99 224.89 L325.31 225.41 L326.64 225.89 L327.92 226.36 L329.14 226.83 L330.34 227.26 L331.54 227.66 L332.72 228.04 L333.90 228.42 L335.06 228.79 L336.21 229.15 L337.36 229.49 L338.52 229.84 L339.71 230.18 L340.85 230.52 L341.93 230.86 L343.07 231.20 L344.40 231.53 L346.02 231.84 L348.03 232.09 L350.34 232.28 L352.84 232.48 L355.37 232.77 L357.80 233.21 L360.32 233.92 L363.02 234.85 L365.62 235.84 L367.84 236.71 L369.42 237.32 L368.92 241.28 L358.30 238.49 L348.34 236.98 L337.72 236.24 L326.26 234.97 L319.12 232.38 L314.97 228.61 L312.82 223.48 L311.82 218.39 L311.65 197.86 Z" fill="#d4d4d4" stroke="none"/>
<path d="M311.82 218.39 L311.91 218.95 L312.04 219.71 L312.18 220.61 L312.36 221.59 L312.57 222.57 L312.82 223.48 L313.09 224.35 L313.38 225.24 L313.70 226.13 L314.06 227.00 L314.49 227.84 L314.97 228.61 L315.52 229.33 L316.10 230.01 L316.74 230.65 L317.45 231.26 L318.24 231.83 L319.12 232.38 L320.09 232.89 L321.12 233.38 L322.24 233.83 L323.45 234.25 L324.79 234.63 L326.26 234.97 L327.93 235.26 L329.79 235.51 L331.77 235.72 L333.80 235.91 L335.81 236.08 L337.72 236.24 L339.54 236.39 L341.34 236.50 L343.12 236.59 L344.88 236.69 L346.62 236.81 L348.34 236.98 L350.03 237.17 L351.68 237.38 L353.32 237.60 L354.96 237.86 L356.61 238.16 L358.30 238.49 L360.16 238.91 L362.19 239.43 L364.23 239.98 L366.15 240.51 L367.76 240.96 L368.92 241.28" stroke="#0a5cb4" stroke-width="2.00" fill="none" stroke-linejoin="round" stroke-linecap="round"/>
<path d="M311.82 235.02 L317.29 235.03 L325.24 235.03 L334.47 235.04 L343.77 235.06 L351.95 235.12 L357.80 235.21 L361.06 235.36 L362.62 235.54 L363.06 235.76 L362.94 235.99 L362.83 236.24 L363.28 236.49 L364.28 236.77 L365.36 237.09 L366.44 237.42 L367.45 237.74 L368.31 238.01 L368.92 238.20" stroke="#3a3af2" stroke-width="1.1" stroke-dasharray="3.7 3.3" fill="none"/>
</g>
<path d="M316.69 226.76L320.89 230.96M316.69 230.96L320.89 226.76 M317.09 228.86H320.49M318.79 227.16V230.56 M324.66 230.28L328.86 234.48M324.66 234.48L328.86 230.28 M325.06 232.38H328.46M326.76 230.68V234.08 M332.96 232.92L337.16 237.12M332.96 237.12L337.16 232.92 M333.36 235.02H336.76M335.06 233.32V236.72 M341.26 233.51L345.46 237.71M341.26 237.71L345.46 233.51 M341.66 235.61H345.06M343.36 233.91V237.31 M349.23 233.51L353.43 237.71M349.23 237.71L353.43 233.51 M349.63 235.61H353.03M351.33 233.91V237.31 M356.20 234.78L360.40 238.98M356.20 238.98L360.40 234.78 M356.60 236.88H360.00M358.30 235.18V238.58 M361.18 236.68L365.38 240.88M361.18 240.88L365.38 236.68 M361.58 238.78H364.98M363.28 237.08V240.48 M366.16 238.59L370.36 242.79M366.16 242.79L370.36 238.59 M366.56 240.69H369.96M368.26 238.99V242.39" stroke="#151515" stroke-width="0.75" fill="none"/>
<path d="M325.10 249.20V243.70 M341.70 249.20V243.70 M358.30 249.20V243.70 M374.90 249.20V243.70 M391.50 249.20V243.70 M308.50 239.42H314.30 M308.50 229.64H314.30 M308.50 219.86H314.30 M308.50 210.08H314.30 M308.50 200.30H314.30" stroke="#909090" stroke-width="0.9" fill="none"/>
<path d="M308.50 200.30V249.20H391.50" stroke="#3a3a3a" stroke-width="1.15" fill="none"/>
<text x="305.28" y="261.80" font-size="11.50" textLength="6.44" lengthAdjust="spacingAndGlyphs" fill="#1e1e1e">0</text>
<text x="322.70" y="261.80" font-size="11.50" textLength="4.54" lengthAdjust="spacingAndGlyphs" fill="#1e1e1e">1</text>
<text x="338.55" y="261.80" font-size="11.50" textLength="6.44" lengthAdjust="spacingAndGlyphs" fill="#1e1e1e">2</text>
<text x="355.02" y="261.80" font-size="11.50" textLength="6.44" lengthAdjust="spacingAndGlyphs" fill="#1e1e1e">3</text>
<text x="371.65" y="261.80" font-size="11.50" textLength="6.44" lengthAdjust="spacingAndGlyphs" fill="#1e1e1e">4</text>
<text x="388.16" y="261.80" font-size="11.50" textLength="6.44" lengthAdjust="spacingAndGlyphs" fill="#1e1e1e">5</text>
<text x="298.19" y="253.30" font-size="12.40" textLength="5.37" lengthAdjust="spacingAndGlyphs" fill="#1e1e1e">0</text>
<text x="291.97" y="243.52" font-size="12.40" textLength="11.63" lengthAdjust="spacingAndGlyphs" fill="#1e1e1e">20</text>
<text x="291.95" y="233.74" font-size="12.40" textLength="11.65" lengthAdjust="spacingAndGlyphs" fill="#1e1e1e">40</text>
<text x="291.96" y="223.96" font-size="12.40" textLength="11.63" lengthAdjust="spacingAndGlyphs" fill="#1e1e1e">60</text>
<text x="291.96" y="214.18" font-size="12.40" textLength="11.63" lengthAdjust="spacingAndGlyphs" fill="#1e1e1e">80</text>
<text x="285.78" y="204.40" font-size="12.40" textLength="17.82" lengthAdjust="spacingAndGlyphs" fill="#1e1e1e">100</text>
<clipPath id="cl23"><rect x="309.30" y="286.30" width="85.00" height="48.90"/></clipPath>
<path d="M325.90 286.30V335.20 M342.50 286.30V335.20 M359.10 286.30V335.20 M375.70 286.30V335.20 M392.30 286.30V335.20 M309.30 325.42H392.30 M309.30 315.64H392.30 M309.30 305.86H392.30 M309.30 296.08H392.30 M309.30 286.30H392.30" stroke="#bdbdbd" stroke-width="0.9" stroke-dasharray="0.9 1.9" fill="none"/>
<g clip-path="url(#cl23)">
<path d="M312.62 283.86 L312.95 284.09 L313.42 284.38 L313.95 284.77 L314.44 285.30 L314.78 286.01 L314.94 286.95 L314.98 288.10 L314.96 289.38 L314.93 290.68 L314.94 291.92 L314.99 293.10 L315.05 294.27 L315.11 295.45 L315.19 296.62 L315.28 297.79 L315.37 298.97 L315.48 300.14 L315.60 301.32 L315.75 302.49 L315.94 303.66 L316.19 304.86 L316.49 306.08 L316.81 307.29 L317.13 308.44 L317.43 309.48 L317.67 310.32 L317.87 311.00 L318.07 311.64 L318.35 312.38 L318.76 313.34 L319.31 314.63 L319.95 316.17 L320.69 317.79 L321.51 319.34 L322.41 320.68 L323.40 321.78 L324.47 322.75 L325.63 323.62 L326.88 324.39 L328.22 325.08 L329.70 325.68 L331.32 326.19 L333.00 326.61 L334.70 326.97 L336.36 327.28 L337.96 327.52 L339.55 327.67 L341.13 327.78 L342.72 327.88 L344.33 328.01 L345.97 328.17 L347.64 328.34 L349.31 328.51 L350.93 328.68 L352.46 328.84 L353.83 328.98 L355.05 329.08 L356.25 329.20 L357.56 329.35 L359.10 329.58 L361.09 329.92 L363.45 330.36 L365.84 330.83 L367.93 331.25 L369.39 331.53 L369.39 335.20 L312.62 335.20 Z" fill="#d4d4d4" stroke="none"/>
<path d="M312.62 319.36 L312.88 319.77 L313.24 320.35 L313.67 321.03 L314.14 321.74 L314.63 322.41 L315.11 322.97 L315.56 323.43 L316.01 323.84 L316.47 324.22 L316.98 324.56 L317.57 324.89 L318.26 325.22 L319.09 325.56 L320.04 325.88 L321.07 326.19 L322.13 326.48 L323.20 326.75 L324.24 326.98 L325.23 327.19 L326.18 327.37 L327.15 327.52 L328.14 327.65 L329.21 327.78 L330.38 327.91 L331.68 328.04 L333.08 328.17 L334.55 328.28 L336.06 328.39 L337.56 328.50 L339.01 328.60 L340.41 328.69 L341.76 328.76 L343.11 328.82 L344.49 328.89 L345.94 328.98 L347.48 329.09 L349.17 329.22 L351.00 329.38 L352.89 329.55 L354.77 329.73 L356.59 329.92 L358.27 330.11 L359.86 330.32 L361.42 330.53 L362.91 330.76 L364.29 330.98 L365.52 331.19 L366.57 331.39 L367.41 331.57 L368.07 331.74 L368.58 331.91 L368.98 332.05 L369.29 332.17 L369.56 332.27" stroke="#0a5cb4" stroke-width="1.60" fill="none" stroke-linejoin="round" stroke-linecap="round"/>
<path d="M312.62 322.39 L312.90 323.02 L313.29 323.91 L313.75 324.96 L314.24 326.05 L314.70 327.07 L315.11 327.91 L315.45 328.59 L315.74 329.19 L316.02 329.72 L316.30 330.20 L316.60 330.62 L316.94 330.99 L317.29 331.32 L317.63 331.57 L317.99 331.78 L318.40 331.95 L318.87 332.09 L319.43 332.22 L320.08 332.33 L320.81 332.41 L321.60 332.47 L322.45 332.51 L323.33 332.52 L324.24 332.51 L325.16 332.48 L326.10 332.41 L327.07 332.33 L328.10 332.23 L329.20 332.13 L330.38 332.02 L331.68 331.91 L333.08 331.79 L334.55 331.65 L336.06 331.52 L337.56 331.40 L339.01 331.29 L340.41 331.18 L341.76 331.08 L343.11 330.98 L344.49 330.90 L345.94 330.84 L347.48 330.80 L349.17 330.79 L351.00 330.80 L352.89 330.83 L354.77 330.88 L356.59 330.95 L358.27 331.04 L359.86 331.17 L361.42 331.32 L362.91 331.50 L364.29 331.69 L365.52 331.86 L366.57 332.02 L367.41 332.17 L368.07 332.31 L368.58 332.45 L368.98 332.57 L369.29 332.68 L369.56 332.75" stroke="#0a5cb4" stroke-width="1.60" fill="none" stroke-linejoin="round" stroke-linecap="round"/>
<path d="M312.62 332.51 L319.45 332.51 L329.44 332.51 L341.01 332.51 L352.57 332.51 L362.56 332.51 L369.39 332.51" stroke="#3a3af2" stroke-width="1.1" stroke-dasharray="3.7 3.3" fill="none"/>
</g>
<path d="M317.66 327.09L321.86 331.29M317.66 331.29L321.86 327.09 M318.06 329.19H321.46M319.76 327.49V330.89 M325.46 328.21L329.66 332.41M325.46 332.41L329.66 328.21 M325.86 330.31H329.26M327.56 328.61V332.01 M333.43 328.21L337.63 332.41M333.43 332.41L337.63 328.21 M333.83 330.31H337.23M335.53 328.61V332.01 M341.56 330.65L345.76 334.86M341.56 334.86L345.76 330.65 M341.96 332.75H345.36M343.66 331.06V334.45 M350.36 331.63L354.56 335.83M350.36 335.83L354.56 331.63 M350.76 333.73H354.16M352.46 332.03V335.43 M356.67 332.37L360.87 336.57M356.67 336.57L360.87 332.37 M357.07 334.47H360.47M358.77 332.77V336.17 M361.32 331.63L365.52 335.83M361.32 335.83L365.52 331.63 M361.72 333.73H365.12M363.42 332.03V335.43 M367.46 329.68L371.66 333.88M367.46 333.88L371.66 329.68 M367.86 331.78H371.26M369.56 330.08V333.48" stroke="#151515" stroke-width="0.75" fill="none"/>
<path d="M325.90 335.20V329.70 M342.50 335.20V329.70 M359.10 335.20V329.70 M375.70 335.20V329.70 M392.30 335.20V329.70 M309.30 325.42H315.10 M309.30 315.64H315.10 M309.30 305.86H315.10 M309.30 296.08H315.10 M309.30 286.30H315.10" stroke="#909090" stroke-width="0.9" fill="none"/>
<path d="M309.30 286.30V335.20H392.30" stroke="#3a3a3a" stroke-width="1.15" fill="none"/>
<text x="306.08" y="347.80" font-size="11.50" textLength="6.44" lengthAdjust="spacingAndGlyphs" fill="#1e1e1e">0</text>
<text x="323.50" y="347.80" font-size="11.50" textLength="4.54" lengthAdjust="spacingAndGlyphs" fill="#1e1e1e">1</text>
<text x="339.35" y="347.80" font-size="11.50" textLength="6.44" lengthAdjust="spacingAndGlyphs" fill="#1e1e1e">2</text>
<text x="355.82" y="347.80" font-size="11.50" textLength="6.44" lengthAdjust="spacingAndGlyphs" fill="#1e1e1e">3</text>
<text x="372.45" y="347.80" font-size="11.50" textLength="6.44" lengthAdjust="spacingAndGlyphs" fill="#1e1e1e">4</text>
<text x="388.96" y="347.80" font-size="11.50" textLength="6.44" lengthAdjust="spacingAndGlyphs" fill="#1e1e1e">5</text>
<text x="298.99" y="339.30" font-size="12.40" textLength="5.37" lengthAdjust="spacingAndGlyphs" fill="#1e1e1e">0</text>
<text x="299.22" y="329.52" font-size="12.40" textLength="5.32" lengthAdjust="spacingAndGlyphs" fill="#1e1e1e">2</text>
<text x="298.68" y="319.74" font-size="12.40" textLength="5.44" lengthAdjust="spacingAndGlyphs" fill="#1e1e1e">4</text>
<text x="298.89" y="309.96" font-size="12.40" textLength="5.38" lengthAdjust="spacingAndGlyphs" fill="#1e1e1e">6</text>
<text x="298.99" y="300.18" font-size="12.40" textLength="5.37" lengthAdjust="spacingAndGlyphs" fill="#1e1e1e">8</text>
<text x="292.80" y="290.40" font-size="12.40" textLength="11.59" lengthAdjust="spacingAndGlyphs" fill="#1e1e1e">10</text>
<clipPath id="cl30"><rect x="447.00" y="28.30" width="85.00" height="48.90"/></clipPath>
<path d="M463.60 28.30V77.20 M480.20 28.30V77.20 M496.80 28.30V77.20 M513.40 28.30V77.20 M530.00 28.30V77.20 M447.00 60.90H530.00 M447.00 44.60H530.00 M447.00 28.30H530.00" stroke="#bdbdbd" stroke-width="0.9" stroke-dasharray="0.9 1.9" fill="none"/>
<g clip-path="url(#cl30)">
<path d="M450.32 75.24 L451.79 74.43 L453.84 73.30 L456.25 71.96 L458.83 70.54 L461.35 69.15 L463.60 67.91 L465.73 66.74 L467.93 65.53 L470.07 64.35 L472.04 63.28 L473.68 62.38 L474.89 61.72" stroke="#0a4fb0" stroke-width="1.8" fill="none" stroke-linejoin="round"/>
<path d="M450.32 75.24 L451.79 74.43 L453.84 73.30 L456.25 71.96 L458.83 70.54 L461.35 69.15 L463.60 67.91 L465.73 66.74 L467.93 65.53 L470.07 64.35 L472.04 63.28 L473.68 62.38 L474.89 61.72" stroke="#0a36f0" stroke-width="0.9" fill="none" stroke-linejoin="round"/>
</g>
<path d="M449.35 72.47L452.95 76.07M449.35 76.07L452.95 72.47 M448.65 74.27H453.65M451.15 71.77V76.77 M454.33 70.02L457.93 73.62M454.33 73.62L457.93 70.02 M453.63 71.82H458.63M456.13 69.32V74.32 M459.31 67.09L462.91 70.69M459.31 70.69L462.91 67.09 M458.61 68.89H463.61M461.11 66.39V71.39 M464.62 64.64L468.22 68.24M464.62 68.24L468.22 64.64 M463.92 66.44H468.92M466.42 63.94V68.94 M468.61 62.69L472.21 66.29M468.61 66.29L472.21 62.69 M467.91 64.49H472.91M470.41 61.99V66.99 M472.42 60.57L476.02 64.17M472.42 64.17L476.02 60.57 M471.72 62.37H476.72M474.22 59.87V64.87" stroke="#151515" stroke-width="0.75" fill="none"/>
<path d="M463.60 77.20V71.70 M480.20 77.20V71.70 M496.80 77.20V71.70 M513.40 77.20V71.70 M530.00 77.20V71.70 M447.00 60.90H452.80 M447.00 44.60H452.80 M447.00 28.30H452.80" stroke="#909090" stroke-width="0.9" fill="none"/>
<path d="M447.00 28.30V77.20H530.00" stroke="#3a3a3a" stroke-width="1.15" fill="none"/>
<text x="443.78" y="89.80" font-size="11.50" textLength="6.44" lengthAdjust="spacingAndGlyphs" fill="#1e1e1e">0</text>
<text x="461.20" y="89.80" font-size="11.50" textLength="4.54" lengthAdjust="spacingAndGlyphs" fill="#1e1e1e">1</text>
<text x="477.05" y="89.80" font-size="11.50" textLength="6.44" lengthAdjust="spacingAndGlyphs" fill="#1e1e1e">2</text>
<text x="493.52" y="89.80" font-size="11.50" textLength="6.44" lengthAdjust="spacingAndGlyphs" fill="#1e1e1e">3</text>
<text x="510.15" y="89.80" font-size="11.50" textLength="6.44" lengthAdjust="spacingAndGlyphs" fill="#1e1e1e">4</text>
<text x="526.66" y="89.80" font-size="11.50" textLength="6.44" lengthAdjust="spacingAndGlyphs" fill="#1e1e1e">5</text>
<text x="436.69" y="81.30" font-size="12.40" textLength="5.37" lengthAdjust="spacingAndGlyphs" fill="#1e1e1e">0</text>
<text x="437.07" y="65.00" font-size="12.40" textLength="5.20" lengthAdjust="spacingAndGlyphs" fill="#1e1e1e">1</text>
<text x="436.92" y="48.70" font-size="12.40" textLength="5.32" lengthAdjust="spacingAndGlyphs" fill="#1e1e1e">2</text>
<text x="436.72" y="32.40" font-size="12.40" textLength="5.35" lengthAdjust="spacingAndGlyphs" fill="#1e1e1e">3</text>
<clipPath id="cl31"><rect x="445.80" y="114.30" width="85.00" height="48.90"/></clipPath>
<path d="M462.40 114.30V163.20 M479.00 114.30V163.20 M495.60 114.30V163.20 M512.20 114.30V163.20 M528.80 114.30V163.20 M445.80 153.42H528.80 M445.80 143.64H528.80 M445.80 133.86H528.80 M445.80 124.08H528.80 M445.80 114.30H528.80" stroke="#bdbdbd" stroke-width="0.9" stroke-dasharray="0.9 1.9" fill="none"/>
<g clip-path="url(#cl31)">
<path d="M448.95 117.14 L449.12 118.02 L449.33 119.26 L449.60 120.71 L449.92 122.20 L450.28 123.59 L450.70 124.91 L451.19 126.26 L451.71 127.59 L452.24 128.83 L452.77 129.95 L453.25 130.90 L453.70 131.73 L454.18 132.47 L454.73 133.17 L455.43 133.86 L456.28 134.55 L457.25 135.22 L458.31 135.86 L459.43 136.45 L460.57 136.99 L461.86 137.49 L463.32 137.95 L464.76 138.36 L466.01 138.70 L466.88 138.95 L466.88 139.63 L448.95 139.63 Z" fill="#d4d4d4" stroke="none"/>
<path d="M448.79 116.26 L448.94 117.07 L449.14 118.19 L449.38 119.53 L449.65 120.95 L449.96 122.34 L450.28 123.59 L450.64 124.74 L451.03 125.87 L451.45 126.98 L451.89 128.05 L452.34 129.04 L452.77 129.95 L453.18 130.75 L453.55 131.46 L453.93 132.11 L454.35 132.70 L454.84 133.28 L455.43 133.86 L456.13 134.44 L456.92 135.00 L457.77 135.55 L458.68 136.06 L459.62 136.54 L460.57 136.99 L461.54 137.40 L462.54 137.78 L463.57 138.12 L464.64 138.43 L465.74 138.71 L466.88 138.95 L468.17 139.14 L469.61 139.29 L471.09 139.41 L472.49 139.50 L473.67 139.57 L474.52 139.63" stroke="#0a5cb4" stroke-width="2.00" fill="none" stroke-linejoin="round" stroke-linecap="round"/>
<path d="M449.12 140.02 L451.72 140.02 L455.51 140.02 L459.91 140.02 L464.31 140.02 L468.10 140.02 L470.70 140.02" stroke="#3a3af2" stroke-width="1.1" stroke-dasharray="3.7 3.3" fill="none"/>
</g>
<path d="M448.85 119.53L453.05 123.73M448.85 123.73L453.05 119.53 M449.25 121.63H452.65M450.95 119.93V123.33 M453.83 130.39L458.03 134.59M453.83 134.59L458.03 130.39 M454.23 132.49H457.63M455.93 130.79V134.19 M458.47 133.62L462.67 137.82M458.47 137.82L462.67 133.62 M458.87 135.72H462.27M460.57 134.02V137.42 M464.12 135.57L468.32 139.77M464.12 139.77L468.32 135.57 M464.52 137.67H467.92M466.22 135.97V139.37 M468.60 137.53L472.80 141.73M468.60 141.73L472.80 137.53 M469.00 139.63H472.40M470.70 137.93V141.33 M471.75 137.53L475.95 141.73M471.75 141.73L475.95 137.53 M472.15 139.63H475.55M473.85 137.93V141.33" stroke="#151515" stroke-width="0.75" fill="none"/>
<path d="M462.40 163.20V157.70 M479.00 163.20V157.70 M495.60 163.20V157.70 M512.20 163.20V157.70 M528.80 163.20V157.70 M445.80 153.42H451.60 M445.80 143.64H451.60 M445.80 133.86H451.60 M445.80 124.08H451.60 M445.80 114.30H451.60" stroke="#909090" stroke-width="0.9" fill="none"/>
<path d="M445.80 114.30V163.20H528.80" stroke="#3a3a3a" stroke-width="1.15" fill="none"/>
<text x="442.58" y="175.80" font-size="11.50" textLength="6.44" lengthAdjust="spacingAndGlyphs" fill="#1e1e1e">0</text>
<text x="460.00" y="175.80" font-size="11.50" textLength="4.54" lengthAdjust="spacingAndGlyphs" fill="#1e1e1e">1</text>
<text x="475.85" y="175.80" font-size="11.50" textLength="6.44" lengthAdjust="spacingAndGlyphs" fill="#1e1e1e">2</text>
<text x="492.32" y="175.80" font-size="11.50" textLength="6.44" lengthAdjust="spacingAndGlyphs" fill="#1e1e1e">3</text>
<text x="508.95" y="175.80" font-size="11.50" textLength="6.44" lengthAdjust="spacingAndGlyphs" fill="#1e1e1e">4</text>
<text x="525.46" y="175.80" font-size="11.50" textLength="6.44" lengthAdjust="spacingAndGlyphs" fill="#1e1e1e">5</text>
<text x="435.49" y="167.30" font-size="12.40" textLength="5.37" lengthAdjust="spacingAndGlyphs" fill="#1e1e1e">0</text>
<text x="423.08" y="157.52" font-size="12.40" textLength="17.82" lengthAdjust="spacingAndGlyphs" fill="#1e1e1e">100</text>
<text x="423.06" y="147.74" font-size="12.40" textLength="17.84" lengthAdjust="spacingAndGlyphs" fill="#1e1e1e">200</text>
<text x="423.06" y="137.96" font-size="12.40" textLength="17.84" lengthAdjust="spacingAndGlyphs" fill="#1e1e1e">300</text>
<text x="423.05" y="128.18" font-size="12.40" textLength="17.86" lengthAdjust="spacingAndGlyphs" fill="#1e1e1e">400</text>
<text x="423.07" y="118.40" font-size="12.40" textLength="17.84" lengthAdjust="spacingAndGlyphs" fill="#1e1e1e">500</text>
<clipPath id="cl32"><rect x="445.70" y="200.30" width="85.00" height="48.90"/></clipPath>
<path d="M462.30 200.30V249.20 M478.90 200.30V249.20 M495.50 200.30V249.20 M512.10 200.30V249.20 M528.70 200.30V249.20 M445.70 239.42H528.70 M445.70 229.64H528.70 M445.70 219.86H528.70 M445.70 210.08H528.70 M445.70 200.30H528.70" stroke="#bdbdbd" stroke-width="0.9" stroke-dasharray="0.9 1.9" fill="none"/>
<g clip-path="url(#cl32)">
<path d="M448.85 212.67 L449.03 213.46 L449.27 214.58 L449.55 215.88 L449.86 217.20 L450.18 218.39 L450.48 219.45 L450.78 220.47 L451.11 221.47 L451.51 222.47 L452.01 223.48 L452.61 224.53 L453.30 225.62 L454.06 226.70 L454.90 227.71 L455.83 228.61 L456.86 229.40 L458.01 230.09 L459.23 230.72 L460.45 231.28 L461.64 231.79 L462.87 232.26 L464.18 232.68 L465.44 233.04 L466.52 233.34 L467.28 233.55 L467.28 234.04 L448.85 234.04 Z" fill="#d4d4d4" stroke="none"/>
<path d="M448.85 212.53 L448.99 213.17 L449.18 214.08 L449.40 215.14 L449.65 216.28 L449.92 217.39 L450.18 218.39 L450.43 219.29 L450.68 220.14 L450.94 220.98 L451.23 221.81 L451.58 222.64 L452.01 223.48 L452.51 224.35 L453.06 225.26 L453.67 226.17 L454.33 227.04 L455.05 227.87 L455.83 228.61 L456.67 229.27 L457.60 229.86 L458.58 230.40 L459.59 230.90 L460.62 231.36 L461.64 231.79 L462.67 232.20 L463.74 232.57 L464.83 232.91 L465.91 233.21 L466.95 233.47 L467.94 233.70 L468.93 233.88 L469.94 234.01 L470.91 234.11 L471.80 234.18 L472.54 234.24 L473.09 234.29" stroke="#0a5cb4" stroke-width="2.00" fill="none" stroke-linejoin="round" stroke-linecap="round"/>
<path d="M449.02 235.02 L451.62 235.02 L455.41 235.02 L459.81 235.02 L464.21 235.02 L468.00 235.02 L470.60 235.02" stroke="#3a3af2" stroke-width="1.1" stroke-dasharray="3.7 3.3" fill="none"/>
</g>
<path d="M448.75 214.83L452.95 219.03M448.75 219.03L452.95 214.83 M449.15 216.93H452.55M450.85 215.23V218.63 M453.73 224.61L457.93 228.81M453.73 228.81L457.93 224.61 M454.13 226.71H457.53M455.83 225.01V228.41 M458.37 227.54L462.57 231.74M458.37 231.74L462.57 227.54 M458.77 229.64H462.17M460.47 227.94V231.34 M463.69 229.69L467.89 233.89M463.69 233.89L467.89 229.69 M464.09 231.79H467.49M465.79 230.09V233.49 M468.50 230.96L472.70 235.16M468.50 235.16L472.70 230.96 M468.90 233.06H472.30M470.60 231.36V234.76 M471.32 231.60L475.52 235.80M471.32 235.80L475.52 231.60 M471.72 233.70H475.12M473.42 232.00V235.40" stroke="#151515" stroke-width="0.75" fill="none"/>
<path d="M462.30 249.20V243.70 M478.90 249.20V243.70 M495.50 249.20V243.70 M512.10 249.20V243.70 M528.70 249.20V243.70 M445.70 239.42H451.50 M445.70 229.64H451.50 M445.70 219.86H451.50 M445.70 210.08H451.50 M445.70 200.30H451.50" stroke="#909090" stroke-width="0.9" fill="none"/>
<path d="M445.70 200.30V249.20H528.70" stroke="#3a3a3a" stroke-width="1.15" fill="none"/>
<text x="442.48" y="261.80" font-size="11.50" textLength="6.44" lengthAdjust="spacingAndGlyphs" fill="#1e1e1e">0</text>
<text x="459.90" y="261.80" font-size="11.50" textLength="4.54" lengthAdjust="spacingAndGlyphs" fill="#1e1e1e">1</text>
<text x="475.75" y="261.80" font-size="11.50" textLength="6.44" lengthAdjust="spacingAndGlyphs" fill="#1e1e1e">2</text>
<text x="492.22" y="261.80" font-size="11.50" textLength="6.44" lengthAdjust="spacingAndGlyphs" fill="#1e1e1e">3</text>
<text x="508.85" y="261.80" font-size="11.50" textLength="6.44" lengthAdjust="spacingAndGlyphs" fill="#1e1e1e">4</text>
<text x="525.36" y="261.80" font-size="11.50" textLength="6.44" lengthAdjust="spacingAndGlyphs" fill="#1e1e1e">5</text>
<text x="435.39" y="253.30" font-size="12.40" textLength="5.37" lengthAdjust="spacingAndGlyphs" fill="#1e1e1e">0</text>
<text x="429.17" y="243.52" font-size="12.40" textLength="11.63" lengthAdjust="spacingAndGlyphs" fill="#1e1e1e">20</text>
<text x="429.15" y="233.74" font-size="12.40" textLength="11.65" lengthAdjust="spacingAndGlyphs" fill="#1e1e1e">40</text>
<text x="429.16" y="223.96" font-size="12.40" textLength="11.63" lengthAdjust="spacingAndGlyphs" fill="#1e1e1e">60</text>
<text x="429.16" y="214.18" font-size="12.40" textLength="11.63" lengthAdjust="spacingAndGlyphs" fill="#1e1e1e">80</text>
<text x="422.98" y="204.40" font-size="12.40" textLength="17.82" lengthAdjust="spacingAndGlyphs" fill="#1e1e1e">100</text>
<clipPath id="cl33"><rect x="446.40" y="286.30" width="85.00" height="48.90"/></clipPath>
<path d="M463.00 286.30V335.20 M479.60 286.30V335.20 M496.20 286.30V335.20 M512.80 286.30V335.20 M529.40 286.30V335.20 M446.40 325.42H529.40 M446.40 315.64H529.40 M446.40 305.86H529.40 M446.40 296.08H529.40 M446.40 286.30H529.40" stroke="#bdbdbd" stroke-width="0.9" stroke-dasharray="0.9 1.9" fill="none"/>
<g clip-path="url(#cl33)">
<path d="M449.72 314.71 L449.94 315.57 L450.25 316.78 L450.61 318.20 L451.00 319.68 L451.38 321.07 L451.74 322.42 L452.09 323.84 L452.46 325.24 L452.88 326.56 L453.37 327.72 L454.00 328.73 L454.76 329.65 L455.54 330.45 L456.22 331.10 L456.69 331.58 L456.69 332.75 L449.72 332.75 Z" fill="#d4d4d4" stroke="none"/>
<path d="M449.72 314.71 L449.90 315.40 L450.14 316.35 L450.43 317.47 L450.74 318.69 L451.06 319.92 L451.38 321.07 L451.68 322.19 L451.97 323.37 L452.27 324.55 L452.60 325.70 L452.96 326.77 L453.37 327.72 L453.83 328.54 L454.33 329.28 L454.87 329.94 L455.44 330.53 L456.05 331.08 L456.69 331.58 L457.37 332.05 L458.07 332.48 L458.81 332.85 L459.59 333.16 L460.43 333.41 L461.34 333.59 L462.32 333.68 L463.38 333.69 L464.49 333.63 L465.64 333.52 L466.81 333.37 L467.98 333.20 L469.24 332.95 L470.64 332.63 L472.05 332.27 L473.37 331.91 L474.48 331.60 L475.28 331.39" stroke="#0a5cb4" stroke-width="2.00" fill="none" stroke-linejoin="round" stroke-linecap="round"/>
<path d="M449.72 317.11 L449.95 317.83 L450.25 318.84 L450.62 320.03 L451.03 321.31 L451.45 322.57 L451.88 323.71 L452.30 324.77 L452.73 325.85 L453.17 326.91 L453.65 327.93 L454.15 328.86 L454.70 329.67 L455.24 330.39 L455.75 331.03 L456.29 331.59 L456.92 332.06 L457.70 332.43 L458.68 332.71 L459.95 332.85 L461.46 332.86 L463.12 332.78 L464.83 332.64 L466.48 332.47 L467.98 332.31 L469.40 332.13 L470.83 331.89 L472.21 331.63 L473.46 331.37 L474.51 331.15 L475.28 330.99" stroke="#0a5cb4" stroke-width="2.00" fill="none" stroke-linejoin="round" stroke-linecap="round"/>
<path d="M449.72 332.61 L451.32 332.61 L453.65 332.61 L456.36 332.61 L459.07 332.61 L461.40 332.61 L463.00 332.61" stroke="#3a3af2" stroke-width="1.1" stroke-dasharray="3.7 3.3" fill="none"/>
</g>
<path d="M449.28 324.00L453.48 328.20M449.28 328.20L453.48 324.00 M449.68 326.10H453.08M451.38 324.40V327.80 M454.59 326.25L458.79 330.45M454.59 330.45L458.79 326.25 M454.99 328.35H458.39M456.69 326.65V330.05 M459.90 327.97L464.10 332.17M459.90 332.17L464.10 327.97 M460.30 330.07H463.70M462.00 328.37V331.77 M464.88 328.21L469.08 332.41M464.88 332.41L469.08 328.21 M465.28 330.31H468.68M466.98 328.61V332.01 M469.20 328.89L473.40 333.09M469.20 333.09L473.40 328.89 M469.60 330.99H473.00M471.30 329.29V332.69 M472.52 329.14L476.72 333.34M472.52 333.34L476.72 329.14 M472.92 331.24H476.32M474.62 329.54V332.94" stroke="#151515" stroke-width="0.75" fill="none"/>
<path d="M463.00 335.20V329.70 M479.60 335.20V329.70 M496.20 335.20V329.70 M512.80 335.20V329.70 M529.40 335.20V329.70 M446.40 325.42H452.20 M446.40 315.64H452.20 M446.40 305.86H452.20 M446.40 296.08H452.20 M446.40 286.30H452.20" stroke="#909090" stroke-width="0.9" fill="none"/>
<path d="M446.40 286.30V335.20H529.40" stroke="#3a3a3a" stroke-width="1.15" fill="none"/>
<text x="443.18" y="347.80" font-size="11.50" textLength="6.44" lengthAdjust="spacingAndGlyphs" fill="#1e1e1e">0</text>
<text x="460.60" y="347.80" font-size="11.50" textLength="4.54" lengthAdjust="spacingAndGlyphs" fill="#1e1e1e">1</text>
<text x="476.45" y="347.80" font-size="11.50" textLength="6.44" lengthAdjust="spacingAndGlyphs" fill="#1e1e1e">2</text>
<text x="492.92" y="347.80" font-size="11.50" textLength="6.44" lengthAdjust="spacingAndGlyphs" fill="#1e1e1e">3</text>
<text x="509.55" y="347.80" font-size="11.50" textLength="6.44" lengthAdjust="spacingAndGlyphs" fill="#1e1e1e">4</text>
<text x="526.06" y="347.80" font-size="11.50" textLength="6.44" lengthAdjust="spacingAndGlyphs" fill="#1e1e1e">5</text>
<text x="436.09" y="339.30" font-size="12.40" textLength="5.37" lengthAdjust="spacingAndGlyphs" fill="#1e1e1e">0</text>
<text x="436.32" y="329.52" font-size="12.40" textLength="5.32" lengthAdjust="spacingAndGlyphs" fill="#1e1e1e">2</text>
<text x="435.78" y="319.74" font-size="12.40" textLength="5.44" lengthAdjust="spacingAndGlyphs" fill="#1e1e1e">4</text>
<text x="435.99" y="309.96" font-size="12.40" textLength="5.38" lengthAdjust="spacingAndGlyphs" fill="#1e1e1e">6</text>
<text x="436.09" y="300.18" font-size="12.40" textLength="5.37" lengthAdjust="spacingAndGlyphs" fill="#1e1e1e">8</text>
<text x="429.90" y="290.40" font-size="12.40" textLength="11.59" lengthAdjust="spacingAndGlyphs" fill="#1e1e1e">10</text>
<text x="55.16" y="12.00" font-size="14.50" textLength="9.75" lengthAdjust="spacingAndGlyphs" fill="#1e1e1e">T</text>
<text x="65.14" y="13.90" font-size="9.80" textLength="10.84" lengthAdjust="spacingAndGlyphs" fill="#1e1e1e">op</text>
<text x="80.45" y="13.30" font-size="14.50" textLength="11.27" lengthAdjust="spacingAndGlyphs" fill="#1e1e1e">=</text>
<text x="96.18" y="12.10" font-size="14.50" textLength="17.00" lengthAdjust="spacingAndGlyphs" fill="#1e1e1e">4.5</text>
<text x="117.17" y="12.00" font-size="14.50" textLength="9.51" lengthAdjust="spacingAndGlyphs" fill="#1e1e1e">K</text>
<text x="183.36" y="12.00" font-size="14.50" textLength="9.75" lengthAdjust="spacingAndGlyphs" fill="#1e1e1e">T</text>
<text x="193.34" y="13.90" font-size="9.80" textLength="10.84" lengthAdjust="spacingAndGlyphs" fill="#1e1e1e">op</text>
<text x="208.65" y="13.30" font-size="14.50" textLength="11.27" lengthAdjust="spacingAndGlyphs" fill="#1e1e1e">=</text>
<text x="224.26" y="12.10" font-size="14.50" textLength="6.09" lengthAdjust="spacingAndGlyphs" fill="#1e1e1e">9</text>
<text x="234.37" y="12.00" font-size="14.50" textLength="9.51" lengthAdjust="spacingAndGlyphs" fill="#1e1e1e">K</text>
<text x="318.26" y="12.00" font-size="14.50" textLength="9.75" lengthAdjust="spacingAndGlyphs" fill="#1e1e1e">T</text>
<text x="328.24" y="13.90" font-size="9.80" textLength="10.84" lengthAdjust="spacingAndGlyphs" fill="#1e1e1e">op</text>
<text x="343.55" y="13.30" font-size="14.50" textLength="11.27" lengthAdjust="spacingAndGlyphs" fill="#1e1e1e">=</text>
<text x="359.04" y="12.10" font-size="14.50" textLength="11.56" lengthAdjust="spacingAndGlyphs" fill="#1e1e1e">25</text>
<text x="374.67" y="12.00" font-size="14.50" textLength="9.51" lengthAdjust="spacingAndGlyphs" fill="#1e1e1e">K</text>
<text x="455.26" y="12.00" font-size="14.50" textLength="9.75" lengthAdjust="spacingAndGlyphs" fill="#1e1e1e">T</text>
<text x="465.24" y="13.90" font-size="9.80" textLength="10.84" lengthAdjust="spacingAndGlyphs" fill="#1e1e1e">op</text>
<text x="480.55" y="13.30" font-size="14.50" textLength="11.27" lengthAdjust="spacingAndGlyphs" fill="#1e1e1e">=</text>
<text x="496.05" y="12.10" font-size="14.50" textLength="11.53" lengthAdjust="spacingAndGlyphs" fill="#1e1e1e">68</text>
<text x="511.67" y="12.00" font-size="14.50" textLength="9.51" lengthAdjust="spacingAndGlyphs" fill="#1e1e1e">K</text>
<text x="80.15" y="368.60" font-size="14.50" textLength="25.51" lengthAdjust="spacingAndGlyphs" fill="#1e1e1e">[kA]</text>
<text x="202.87" y="368.60" font-size="14.50" textLength="24.96" lengthAdjust="spacingAndGlyphs" fill="#1e1e1e">[kA]</text>
<text x="340.15" y="368.60" font-size="14.50" textLength="25.51" lengthAdjust="spacingAndGlyphs" fill="#1e1e1e">[kA]</text>
<text x="477.96" y="368.60" font-size="14.50" textLength="25.29" lengthAdjust="spacingAndGlyphs" fill="#1e1e1e">[kA]</text>
<g transform="translate(25.20 72.00) rotate(-90)"><text x="-0.03" y="0.00" font-size="14.50" textLength="11.09" lengthAdjust="spacingAndGlyphs" fill="#1e1e1e">B</text></g>
<g transform="translate(25.20 72.00) rotate(-90)"><text x="10.75" y="2.60" font-size="9.80" textLength="3.98" lengthAdjust="spacingAndGlyphs" fill="#1e1e1e">1</text></g>
<g transform="translate(25.20 72.00) rotate(-90)"><text x="21.62" y="0.00" font-size="14.50" textLength="15.95" lengthAdjust="spacingAndGlyphs" fill="#1e1e1e">[T]</text></g>
<g transform="translate(12.10 167.00) rotate(-90)"><text x="0.85" y="0.00" font-size="14.50" textLength="6.49" lengthAdjust="spacingAndGlyphs" fill="#1e1e1e">b</text></g>
<g transform="translate(12.10 167.00) rotate(-90)"><text x="8.04" y="2.30" font-size="9.80" textLength="4.24" lengthAdjust="spacingAndGlyphs" fill="#1e1e1e">3</text></g>
<g transform="translate(12.10 167.00) rotate(-90)"><text x="19.18" y="0.00" font-size="14.50" textLength="37.75" lengthAdjust="spacingAndGlyphs" fill="#1e1e1e">[units]</text></g>
<g transform="translate(11.80 252.70) rotate(-90)"><text x="0.85" y="0.00" font-size="14.50" textLength="6.49" lengthAdjust="spacingAndGlyphs" fill="#1e1e1e">b</text></g>
<g transform="translate(11.80 252.70) rotate(-90)"><text x="7.95" y="2.30" font-size="9.80" textLength="4.34" lengthAdjust="spacingAndGlyphs" fill="#1e1e1e">5</text></g>
<g transform="translate(11.80 252.70) rotate(-90)"><text x="19.18" y="0.00" font-size="14.50" textLength="37.75" lengthAdjust="spacingAndGlyphs" fill="#1e1e1e">[units]</text></g>
<g transform="translate(18.75 338.40) rotate(-90)"><text x="0.85" y="0.00" font-size="14.50" textLength="6.49" lengthAdjust="spacingAndGlyphs" fill="#1e1e1e">b</text></g>
<g transform="translate(18.75 338.40) rotate(-90)"><text x="7.88" y="2.30" font-size="9.80" textLength="4.32" lengthAdjust="spacingAndGlyphs" fill="#1e1e1e">7</text></g>
<g transform="translate(18.75 338.40) rotate(-90)"><text x="19.18" y="0.00" font-size="14.50" textLength="37.75" lengthAdjust="spacingAndGlyphs" fill="#1e1e1e">[units]</text></g>
<rect x="35.7" y="378.5" width="460.5" height="22.0" fill="none" stroke="#333" stroke-width="1.1"/>
<path d="M39.4 389.4H44.2M41.8 387.0V391.8" stroke="#2a2a2a" stroke-width="0.7"/>
<text x="46.85" y="391.80" font-size="14.00" textLength="15.30" lengthAdjust="spacingAndGlyphs" fill="#1e1e1e">up</text>
<path d="M88.0 387.5L91.8 391.3M88.0 391.3L91.8 387.5" stroke="#2a2a2a" stroke-width="0.75"/>
<text x="93.52" y="393.60" font-size="14.00" textLength="32.35" lengthAdjust="spacingAndGlyphs" fill="#1e1e1e">down</text>
<rect x="152.5" y="386.9" width="20.7" height="6.1" fill="#d0d0d0" stroke="#a8a8a8" stroke-width="0.8"/>
<text x="176.40" y="391.70" font-size="14.00" textLength="54.14" lengthAdjust="spacingAndGlyphs" fill="#1e1e1e">n=sweep</text>
<path d="M257.2 389.5H277.8" stroke="#0a5cb4" stroke-width="1.3"/><circle cx="267.4" cy="389.5" r="1.9" fill="#0a5cb4"/>
<text x="281.19" y="393.40" font-size="14.00" textLength="32.36" lengthAdjust="spacingAndGlyphs" fill="#1e1e1e">n=20</text>
<path d="M339.9 389.5H358.4" stroke="#3a3af2" stroke-width="1.1" stroke-dasharray="3.6 3.3"/>
<path d="M365.5 383.2V397.3" stroke="#333" stroke-width="0.75"/>
<text x="367.74" y="393.70" font-size="14.00" font-weight="bold" textLength="6.89" lengthAdjust="spacingAndGlyphs" fill="#1e1e1e">J</text>
<path d="M377.5 383.2V397.3" stroke="#333" stroke-width="0.75"/>
<text x="385.11" y="393.70" font-size="14.00" textLength="81.57" lengthAdjust="spacingAndGlyphs" fill="#1e1e1e">homogeneous</text>
</svg></body></html>
